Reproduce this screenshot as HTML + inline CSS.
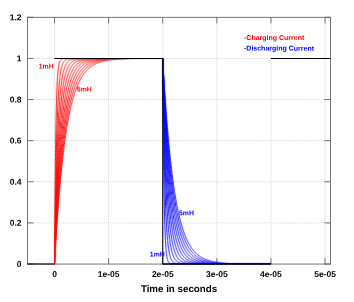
<!DOCTYPE html><html><head><meta charset="utf-8"><style>html,body{margin:0;padding:0;background:#fff}svg{display:block}</style></head><body><svg width="354" height="302" viewBox="0 0 354 302"><defs><filter id="soft" x="0" y="0" width="354" height="302" filterUnits="userSpaceOnUse"><feGaussianBlur stdDeviation="0.3"/></filter><filter id="soft2" x="0" y="0" width="354" height="302" filterUnits="userSpaceOnUse" color-interpolation-filters="sRGB"><feConvolveMatrix order="3" kernelMatrix="0.01 0.07 0.01 0.07 0.68 0.07 0.01 0.07 0.01" edgeMode="none" preserveAlpha="false"/></filter><clipPath id="cr"><rect x="0" y="58.68" width="354" height="302"/></clipPath><clipPath id="cb"><rect x="0" y="0" width="354" height="264.35"/></clipPath></defs><rect width="100%" height="100%" fill="#fff"/><g stroke="#a8a8a8" stroke-width="0.55" stroke-dasharray="0.9 1.07" fill="none"><line x1="54.55" y1="17.30" x2="54.55" y2="264.05"/><line x1="108.65" y1="17.30" x2="108.65" y2="264.05"/><line x1="162.75" y1="17.30" x2="162.75" y2="264.05"/><line x1="216.85" y1="17.30" x2="216.85" y2="264.05"/><line x1="270.95" y1="17.30" x2="270.95" y2="264.05"/><line x1="325.05" y1="17.30" x2="325.05" y2="264.05"/><line x1="27.50" y1="222.93" x2="330.50" y2="222.93"/><line x1="27.50" y1="181.80" x2="330.50" y2="181.80"/><line x1="27.50" y1="140.68" x2="330.50" y2="140.68"/><line x1="27.50" y1="99.55" x2="330.50" y2="99.55"/><line x1="27.50" y1="58.43" x2="330.50" y2="58.43"/></g><g stroke="#555" stroke-width="0.8" fill="none"><line x1="54.55" y1="264.05" x2="54.55" y2="258.05"/><line x1="54.55" y1="17.30" x2="54.55" y2="23.30"/><line x1="108.65" y1="264.05" x2="108.65" y2="258.05"/><line x1="108.65" y1="17.30" x2="108.65" y2="23.30"/><line x1="162.75" y1="264.05" x2="162.75" y2="258.05"/><line x1="162.75" y1="17.30" x2="162.75" y2="23.30"/><line x1="216.85" y1="264.05" x2="216.85" y2="258.05"/><line x1="216.85" y1="17.30" x2="216.85" y2="23.30"/><line x1="270.95" y1="264.05" x2="270.95" y2="258.05"/><line x1="270.95" y1="17.30" x2="270.95" y2="23.30"/><line x1="325.05" y1="264.05" x2="325.05" y2="258.05"/><line x1="325.05" y1="17.30" x2="325.05" y2="23.30"/><line x1="27.50" y1="264.05" x2="33.50" y2="264.05"/><line x1="330.50" y1="264.05" x2="324.50" y2="264.05"/><line x1="27.50" y1="222.93" x2="33.50" y2="222.93"/><line x1="330.50" y1="222.93" x2="324.50" y2="222.93"/><line x1="27.50" y1="181.80" x2="33.50" y2="181.80"/><line x1="330.50" y1="181.80" x2="324.50" y2="181.80"/><line x1="27.50" y1="140.68" x2="33.50" y2="140.68"/><line x1="330.50" y1="140.68" x2="324.50" y2="140.68"/><line x1="27.50" y1="99.55" x2="33.50" y2="99.55"/><line x1="330.50" y1="99.55" x2="324.50" y2="99.55"/><line x1="27.50" y1="58.43" x2="33.50" y2="58.43"/><line x1="330.50" y1="58.43" x2="324.50" y2="58.43"/><line x1="27.50" y1="17.31" x2="33.50" y2="17.31"/><line x1="330.50" y1="17.31" x2="324.50" y2="17.31"/></g><rect x="27.50" y="17.30" width="303.00" height="246.75" fill="none" stroke="#555" stroke-width="0.8"/><g clip-path="url(#cr)"><g stroke="#ff0000" stroke-width="0.95" fill="none" stroke-linejoin="round" filter="url(#soft2)"><path d="M54.55 264.05 L54.55 263.94 L54.55 263.60 L54.56 263.05 L54.56 262.27 L54.57 261.28 L54.57 260.07 L54.58 258.65 L54.59 257.02 L54.60 255.19 L54.62 253.17 L54.63 250.96 L54.65 248.57 L54.66 246.01 L54.68 243.27 L54.70 240.38 L54.72 237.34 L54.75 234.16 L54.77 230.85 L54.79 227.42 L54.82 223.87 L54.85 220.23 L54.88 216.49 L54.91 212.67 L54.94 208.78 L54.97 204.83 L55.01 200.83 L55.04 196.79 L55.08 192.71 L55.12 188.62 L55.16 184.51 L55.20 180.40 L55.24 176.29 L55.29 172.20 L55.33 168.13 L55.38 164.09 L55.43 160.09 L55.48 156.14 L55.53 152.24 L55.58 148.39 L55.63 144.61 L55.69 140.90 L55.74 137.26 L55.80 133.70 L55.86 130.23 L55.92 126.84 L55.98 123.54 L56.04 120.33 L56.11 117.21 L56.17 114.19 L56.24 111.27 L56.31 108.45 L56.38 105.73 L56.45 103.10 L56.52 100.58 L56.60 98.16 L56.67 95.83 L56.75 93.60 L56.82 91.47 L56.90 89.44 L56.98 87.49 L57.07 85.64 L57.15 83.88 L57.23 82.21 L57.32 80.63 L57.41 79.12 L57.50 77.70 L57.59 76.36 L57.68 75.09 L57.77 73.89 L57.86 72.77 L57.96 71.71 L58.06 70.72 L58.15 69.79 L58.25 68.91 L58.35 68.10 L58.46 67.34 L58.56 66.63 L58.66 65.96 L58.77 65.35 L58.88 64.78 L58.99 64.24 L59.10 63.75 L59.21 63.29 L59.32 62.87 L59.44 62.48 L59.55 62.12 L59.67 61.79 L59.79 61.49 L59.91 61.21 L60.03 60.95 L60.15 60.71 L60.27 60.50 L60.40 60.30 L60.53 60.12 L60.65 59.95 L60.78 59.80 L60.91 59.67 L61.04 59.54 L61.18 59.43 L61.31 59.33 L61.45 59.23 L61.59 59.15 L61.72 59.07 L61.86 59.01 L62.01 58.94 L62.15 58.89 L62.29 58.84 L62.44 58.79 L62.58 58.75 L62.73 58.72 L62.88 58.68 L63.03 58.66 L63.19 58.63 L63.34 58.61 L63.49 58.59 L63.65 58.57 L63.81 58.55 L63.97 58.54 L64.13 58.52 L64.29 58.51 L64.45 58.50 L64.62 58.49 L64.78 58.49 L64.95 58.48 L65.12 58.47 L65.29 58.47 L65.46 58.46 L65.63 58.46 L65.80 58.45 L65.98 58.45 L66.16 58.45 L66.33 58.45 L66.51 58.44 L66.69 58.44 L66.87 58.44 L67.06 58.44 L67.24 58.44 L67.43 58.44 L67.62 58.44 L67.80 58.43 L67.99 58.43 L68.19 58.43 L68.38 58.43 L68.57 58.43 L68.77 58.43 L68.96 58.43 L69.16 58.43 L69.36 58.43 L69.56 58.43 L69.77 58.43 L69.97 58.43 L70.17 58.43 L70.38 58.43 L70.59 58.43 L70.80 58.43 L71.01 58.43 L71.22 58.43 L71.43 58.43 L71.65 58.43 L71.86 58.43 L72.08 58.43 L72.30 58.43 L72.52 58.43 L72.74 58.43 L72.96 58.43 L73.18 58.43 L73.41 58.43 L73.64 58.43 L73.86 58.43 L74.09 58.43 L74.32 58.43 L74.56 58.43 L74.79 58.43 L75.02 58.43 L75.26 58.43 L75.50 58.43 L75.74 58.43 L75.98 58.43 L76.22 58.43 L76.46 58.43 L76.70 58.43 L76.95 58.43 L77.20 58.43 L77.45 58.43 L77.69 58.43 L77.95 58.43 L78.20 58.43 L78.45 58.43 L78.71 58.43 L78.96 58.43 L79.22 58.43 L79.48 58.43 L79.74 58.43 L80.00 58.43 L80.26 58.43 L80.53 58.43 L80.79 58.43 L81.06 58.43 L81.33 58.43 L81.60 58.43 L81.87 58.43 L82.14 58.43 L82.42 58.43 L82.69 58.43 L82.97 58.43 L83.25 58.43 L83.53 58.43 L83.81 58.43 L84.09 58.43 L84.37 58.43 L84.66 58.43 L84.94 58.43 L85.23 58.43 L85.52 58.43 L85.81 58.43 L86.10 58.43 L86.39 58.43 L86.69 58.43 L86.98 58.43 L87.28 58.43 L87.58 58.43 L87.88 58.43 L88.18 58.43 L88.48 58.43 L88.79 58.43 L89.09 58.43 L89.40 58.43 L89.70 58.43 L90.01 58.43 L90.32 58.43 L90.64 58.43 L90.95 58.43 L91.26 58.43 L91.58 58.43 L91.90 58.43 L92.21 58.43 L92.53 58.43 L92.86 58.43 L93.18 58.43 L93.50 58.43 L93.83 58.43 L94.15 58.43 L94.48 58.43 L94.81 58.43 L95.14 58.43 L95.47 58.43 L95.81 58.43 L96.14 58.43 L96.48 58.43 L96.82 58.43 L97.15 58.43 L97.49 58.43 L97.84 58.43 L98.18 58.43 L98.52 58.43 L98.87 58.43 L99.22 58.43 L99.56 58.43 L99.91 58.43 L100.26 58.43 L100.62 58.43 L100.97 58.43 L101.33 58.43 L101.68 58.43 L102.04 58.43 L102.40 58.43 L102.76 58.43 L103.12 58.43 L103.48 58.43 L103.85 58.43 L104.21 58.43 L104.58 58.43 L104.95 58.43 L105.32 58.43 L105.69 58.43 L106.06 58.43 L106.44 58.43 L106.81 58.43 L107.19 58.43 L107.57 58.43 L107.95 58.43 L108.33 58.43 L108.71 58.43 L109.09 58.43 L109.48 58.43 L109.86 58.43 L110.25 58.43 L110.64 58.43 L111.03 58.43 L111.42 58.43 L111.82 58.43 L112.21 58.43 L112.61 58.43 L113.00 58.43 L113.40 58.43 L113.80 58.43 L114.20 58.43 L114.60 58.43 L115.01 58.43 L115.41 58.43 L115.82 58.43 L116.23 58.43 L116.64 58.43 L117.05 58.43 L117.46 58.43 L117.87 58.43 L118.29 58.43 L118.70 58.43 L119.12 58.43 L119.54 58.43 L119.96 58.43 L120.38 58.43 L120.80 58.43 L121.23 58.43 L121.65 58.43 L122.08 58.43 L122.51 58.43 L122.94 58.43 L123.37 58.43 L123.80 58.43 L124.23 58.43 L124.67 58.43 L125.10 58.43 L125.54 58.43 L125.98 58.43 L126.42 58.43 L126.86 58.43 L127.30 58.43 L127.75 58.43 L128.19 58.43 L128.64 58.43 L129.09 58.43 L129.54 58.43 L129.99 58.43 L130.44 58.43 L130.90 58.43 L131.35 58.43 L131.81 58.43 L132.27 58.43 L132.72 58.43 L133.19 58.43 L133.65 58.43 L134.11 58.43 L134.57 58.43 L135.04 58.43 L135.51 58.43 L135.98 58.43 L136.45 58.43 L136.92 58.43 L137.39 58.43 L137.86 58.43 L138.34 58.43 L138.82 58.43 L139.29 58.43 L139.77 58.43 L140.26 58.43 L140.74 58.43 L141.22 58.43 L141.71 58.43 L142.19 58.43 L142.68 58.43 L143.17 58.43 L143.66 58.43 L144.15 58.43 L144.64 58.43 L145.14 58.43 L145.63 58.43 L146.13 58.43 L146.63 58.43 L147.13 58.43 L147.63 58.43 L148.13 58.43 L148.64 58.43 L149.14 58.43 L149.65 58.43 L150.16 58.43 L150.66 58.43 L151.18 58.43 L151.69 58.43 L152.20 58.43 L152.72 58.43 L153.23 58.43 L153.75 58.43 L154.27 58.43 L154.79 58.43 L155.31 58.43 L155.83 58.43 L156.36 58.43 L156.88 58.43 L157.41 58.43 L157.94 58.43 L158.47 58.43 L159.00 58.43 L159.53 58.43 L160.06 58.43 L160.60 58.43 L161.13 58.43 L161.67 58.43 L162.21 58.43 L162.75 58.43"/><path d="M54.55 264.05 L54.55 263.99 L54.55 263.80 L54.56 263.49 L54.56 263.06 L54.57 262.51 L54.57 261.84 L54.58 261.04 L54.59 260.13 L54.60 259.11 L54.62 257.96 L54.63 256.71 L54.65 255.34 L54.66 253.87 L54.68 252.29 L54.70 250.61 L54.72 248.83 L54.75 246.95 L54.77 244.98 L54.79 242.91 L54.82 240.76 L54.85 238.53 L54.88 236.22 L54.91 233.83 L54.94 231.37 L54.97 228.84 L55.01 226.25 L55.04 223.60 L55.08 220.89 L55.12 218.13 L55.16 215.33 L55.20 212.48 L55.24 209.59 L55.29 206.67 L55.33 203.71 L55.38 200.73 L55.43 197.73 L55.48 194.70 L55.53 191.67 L55.58 188.62 L55.63 185.57 L55.69 182.51 L55.74 179.45 L55.80 176.40 L55.86 173.36 L55.92 170.32 L55.98 167.31 L56.04 164.31 L56.11 161.33 L56.17 158.37 L56.24 155.44 L56.31 152.54 L56.38 149.67 L56.45 146.84 L56.52 144.04 L56.60 141.28 L56.67 138.57 L56.75 135.89 L56.82 133.26 L56.90 130.67 L56.98 128.14 L57.07 125.65 L57.15 123.21 L57.23 120.82 L57.32 118.48 L57.41 116.20 L57.50 113.97 L57.59 111.80 L57.68 109.67 L57.77 107.61 L57.86 105.60 L57.96 103.64 L58.06 101.74 L58.15 99.89 L58.25 98.10 L58.35 96.36 L58.46 94.68 L58.56 93.05 L58.66 91.48 L58.77 89.95 L58.88 88.48 L58.99 87.06 L59.10 85.69 L59.21 84.38 L59.32 83.11 L59.44 81.88 L59.55 80.71 L59.67 79.58 L59.79 78.50 L59.91 77.46 L60.03 76.46 L60.15 75.51 L60.27 74.59 L60.40 73.72 L60.53 72.88 L60.65 72.09 L60.78 71.32 L60.91 70.60 L61.04 69.91 L61.18 69.25 L61.31 68.62 L61.45 68.02 L61.59 67.45 L61.72 66.91 L61.86 66.40 L62.01 65.92 L62.15 65.46 L62.29 65.02 L62.44 64.61 L62.58 64.22 L62.73 63.85 L62.88 63.50 L63.03 63.17 L63.19 62.86 L63.34 62.57 L63.49 62.30 L63.65 62.04 L63.81 61.79 L63.97 61.56 L64.13 61.35 L64.29 61.15 L64.45 60.96 L64.62 60.78 L64.78 60.61 L64.95 60.46 L65.12 60.31 L65.29 60.17 L65.46 60.05 L65.63 59.93 L65.80 59.82 L65.98 59.71 L66.16 59.61 L66.33 59.52 L66.51 59.44 L66.69 59.36 L66.87 59.29 L67.06 59.22 L67.24 59.16 L67.43 59.10 L67.62 59.05 L67.80 59.00 L67.99 58.95 L68.19 58.91 L68.38 58.87 L68.57 58.83 L68.77 58.80 L68.96 58.77 L69.16 58.74 L69.36 58.71 L69.56 58.69 L69.77 58.67 L69.97 58.65 L70.17 58.63 L70.38 58.61 L70.59 58.60 L70.80 58.58 L71.01 58.57 L71.22 58.55 L71.43 58.54 L71.65 58.53 L71.86 58.52 L72.08 58.52 L72.30 58.51 L72.52 58.50 L72.74 58.49 L72.96 58.49 L73.18 58.48 L73.41 58.48 L73.64 58.47 L73.86 58.47 L74.09 58.46 L74.32 58.46 L74.56 58.46 L74.79 58.46 L75.02 58.45 L75.26 58.45 L75.50 58.45 L75.74 58.45 L75.98 58.45 L76.22 58.44 L76.46 58.44 L76.70 58.44 L76.95 58.44 L77.20 58.44 L77.45 58.44 L77.69 58.44 L77.95 58.44 L78.20 58.44 L78.45 58.44 L78.71 58.43 L78.96 58.43 L79.22 58.43 L79.48 58.43 L79.74 58.43 L80.00 58.43 L80.26 58.43 L80.53 58.43 L80.79 58.43 L81.06 58.43 L81.33 58.43 L81.60 58.43 L81.87 58.43 L82.14 58.43 L82.42 58.43 L82.69 58.43 L82.97 58.43 L83.25 58.43 L83.53 58.43 L83.81 58.43 L84.09 58.43 L84.37 58.43 L84.66 58.43 L84.94 58.43 L85.23 58.43 L85.52 58.43 L85.81 58.43 L86.10 58.43 L86.39 58.43 L86.69 58.43 L86.98 58.43 L87.28 58.43 L87.58 58.43 L87.88 58.43 L88.18 58.43 L88.48 58.43 L88.79 58.43 L89.09 58.43 L89.40 58.43 L89.70 58.43 L90.01 58.43 L90.32 58.43 L90.64 58.43 L90.95 58.43 L91.26 58.43 L91.58 58.43 L91.90 58.43 L92.21 58.43 L92.53 58.43 L92.86 58.43 L93.18 58.43 L93.50 58.43 L93.83 58.43 L94.15 58.43 L94.48 58.43 L94.81 58.43 L95.14 58.43 L95.47 58.43 L95.81 58.43 L96.14 58.43 L96.48 58.43 L96.82 58.43 L97.15 58.43 L97.49 58.43 L97.84 58.43 L98.18 58.43 L98.52 58.43 L98.87 58.43 L99.22 58.43 L99.56 58.43 L99.91 58.43 L100.26 58.43 L100.62 58.43 L100.97 58.43 L101.33 58.43 L101.68 58.43 L102.04 58.43 L102.40 58.43 L102.76 58.43 L103.12 58.43 L103.48 58.43 L103.85 58.43 L104.21 58.43 L104.58 58.43 L104.95 58.43 L105.32 58.43 L105.69 58.43 L106.06 58.43 L106.44 58.43 L106.81 58.43 L107.19 58.43 L107.57 58.43 L107.95 58.43 L108.33 58.43 L108.71 58.43 L109.09 58.43 L109.48 58.43 L109.86 58.43 L110.25 58.43 L110.64 58.43 L111.03 58.43 L111.42 58.43 L111.82 58.43 L112.21 58.43 L112.61 58.43 L113.00 58.43 L113.40 58.43 L113.80 58.43 L114.20 58.43 L114.60 58.43 L115.01 58.43 L115.41 58.43 L115.82 58.43 L116.23 58.43 L116.64 58.43 L117.05 58.43 L117.46 58.43 L117.87 58.43 L118.29 58.43 L118.70 58.43 L119.12 58.43 L119.54 58.43 L119.96 58.43 L120.38 58.43 L120.80 58.43 L121.23 58.43 L121.65 58.43 L122.08 58.43 L122.51 58.43 L122.94 58.43 L123.37 58.43 L123.80 58.43 L124.23 58.43 L124.67 58.43 L125.10 58.43 L125.54 58.43 L125.98 58.43 L126.42 58.43 L126.86 58.43 L127.30 58.43 L127.75 58.43 L128.19 58.43 L128.64 58.43 L129.09 58.43 L129.54 58.43 L129.99 58.43 L130.44 58.43 L130.90 58.43 L131.35 58.43 L131.81 58.43 L132.27 58.43 L132.72 58.43 L133.19 58.43 L133.65 58.43 L134.11 58.43 L134.57 58.43 L135.04 58.43 L135.51 58.43 L135.98 58.43 L136.45 58.43 L136.92 58.43 L137.39 58.43 L137.86 58.43 L138.34 58.43 L138.82 58.43 L139.29 58.43 L139.77 58.43 L140.26 58.43 L140.74 58.43 L141.22 58.43 L141.71 58.43 L142.19 58.43 L142.68 58.43 L143.17 58.43 L143.66 58.43 L144.15 58.43 L144.64 58.43 L145.14 58.43 L145.63 58.43 L146.13 58.43 L146.63 58.43 L147.13 58.43 L147.63 58.43 L148.13 58.43 L148.64 58.43 L149.14 58.43 L149.65 58.43 L150.16 58.43 L150.66 58.43 L151.18 58.43 L151.69 58.43 L152.20 58.43 L152.72 58.43 L153.23 58.43 L153.75 58.43 L154.27 58.43 L154.79 58.43 L155.31 58.43 L155.83 58.43 L156.36 58.43 L156.88 58.43 L157.41 58.43 L157.94 58.43 L158.47 58.43 L159.00 58.43 L159.53 58.43 L160.06 58.43 L160.60 58.43 L161.13 58.43 L161.67 58.43 L162.21 58.43 L162.75 58.43"/><path d="M54.55 264.05 L54.55 264.01 L54.55 263.88 L54.56 263.67 L54.56 263.37 L54.57 262.99 L54.57 262.52 L54.58 261.97 L54.59 261.34 L54.60 260.62 L54.62 259.82 L54.63 258.95 L54.65 257.99 L54.66 256.96 L54.68 255.85 L54.70 254.66 L54.72 253.41 L54.75 252.07 L54.77 250.67 L54.79 249.20 L54.82 247.66 L54.85 246.06 L54.88 244.39 L54.91 242.66 L54.94 240.87 L54.97 239.02 L55.01 237.12 L55.04 235.17 L55.08 233.16 L55.12 231.10 L55.16 229.00 L55.20 226.85 L55.24 224.67 L55.29 222.44 L55.33 220.17 L55.38 217.87 L55.43 215.54 L55.48 213.17 L55.53 210.78 L55.58 208.37 L55.63 205.93 L55.69 203.47 L55.74 200.99 L55.80 198.49 L55.86 195.99 L55.92 193.47 L55.98 190.94 L56.04 188.41 L56.11 185.87 L56.17 183.33 L56.24 180.79 L56.31 178.25 L56.38 175.71 L56.45 173.18 L56.52 170.66 L56.60 168.15 L56.67 165.65 L56.75 163.16 L56.82 160.69 L56.90 158.24 L56.98 155.80 L57.07 153.38 L57.15 150.99 L57.23 148.62 L57.32 146.27 L57.41 143.95 L57.50 141.65 L57.59 139.39 L57.68 137.15 L57.77 134.94 L57.86 132.77 L57.96 130.62 L58.06 128.51 L58.15 126.43 L58.25 124.39 L58.35 122.38 L58.46 120.40 L58.56 118.46 L58.66 116.56 L58.77 114.70 L58.88 112.87 L58.99 111.08 L59.10 109.33 L59.21 107.62 L59.32 105.94 L59.44 104.30 L59.55 102.70 L59.67 101.14 L59.79 99.61 L59.91 98.13 L60.03 96.68 L60.15 95.27 L60.27 93.90 L60.40 92.56 L60.53 91.26 L60.65 90.00 L60.78 88.77 L60.91 87.58 L61.04 86.42 L61.18 85.30 L61.31 84.21 L61.45 83.16 L61.59 82.14 L61.72 81.15 L61.86 80.19 L62.01 79.27 L62.15 78.37 L62.29 77.51 L62.44 76.68 L62.58 75.87 L62.73 75.10 L62.88 74.35 L63.03 73.63 L63.19 72.94 L63.34 72.27 L63.49 71.63 L63.65 71.01 L63.81 70.41 L63.97 69.84 L64.13 69.30 L64.29 68.77 L64.45 68.27 L64.62 67.78 L64.78 67.32 L64.95 66.87 L65.12 66.45 L65.29 66.04 L65.46 65.65 L65.63 65.28 L65.80 64.92 L65.98 64.58 L66.16 64.26 L66.33 63.95 L66.51 63.65 L66.69 63.37 L66.87 63.10 L67.06 62.85 L67.24 62.60 L67.43 62.37 L67.62 62.15 L67.80 61.94 L67.99 61.74 L68.19 61.55 L68.38 61.37 L68.57 61.20 L68.77 61.04 L68.96 60.89 L69.16 60.74 L69.36 60.61 L69.56 60.48 L69.77 60.35 L69.97 60.24 L70.17 60.13 L70.38 60.02 L70.59 59.92 L70.80 59.83 L71.01 59.74 L71.22 59.66 L71.43 59.58 L71.65 59.51 L71.86 59.44 L72.08 59.38 L72.30 59.31 L72.52 59.26 L72.74 59.20 L72.96 59.15 L73.18 59.10 L73.41 59.06 L73.64 59.02 L73.86 58.98 L74.09 58.94 L74.32 58.90 L74.56 58.87 L74.79 58.84 L75.02 58.81 L75.26 58.79 L75.50 58.76 L75.74 58.74 L75.98 58.72 L76.22 58.70 L76.46 58.68 L76.70 58.66 L76.95 58.64 L77.20 58.63 L77.45 58.61 L77.69 58.60 L77.95 58.59 L78.20 58.57 L78.45 58.56 L78.71 58.55 L78.96 58.54 L79.22 58.54 L79.48 58.53 L79.74 58.52 L80.00 58.51 L80.26 58.51 L80.53 58.50 L80.79 58.50 L81.06 58.49 L81.33 58.49 L81.60 58.48 L81.87 58.48 L82.14 58.47 L82.42 58.47 L82.69 58.47 L82.97 58.46 L83.25 58.46 L83.53 58.46 L83.81 58.46 L84.09 58.45 L84.37 58.45 L84.66 58.45 L84.94 58.45 L85.23 58.45 L85.52 58.45 L85.81 58.44 L86.10 58.44 L86.39 58.44 L86.69 58.44 L86.98 58.44 L87.28 58.44 L87.58 58.44 L87.88 58.44 L88.18 58.44 L88.48 58.44 L88.79 58.44 L89.09 58.44 L89.40 58.43 L89.70 58.43 L90.01 58.43 L90.32 58.43 L90.64 58.43 L90.95 58.43 L91.26 58.43 L91.58 58.43 L91.90 58.43 L92.21 58.43 L92.53 58.43 L92.86 58.43 L93.18 58.43 L93.50 58.43 L93.83 58.43 L94.15 58.43 L94.48 58.43 L94.81 58.43 L95.14 58.43 L95.47 58.43 L95.81 58.43 L96.14 58.43 L96.48 58.43 L96.82 58.43 L97.15 58.43 L97.49 58.43 L97.84 58.43 L98.18 58.43 L98.52 58.43 L98.87 58.43 L99.22 58.43 L99.56 58.43 L99.91 58.43 L100.26 58.43 L100.62 58.43 L100.97 58.43 L101.33 58.43 L101.68 58.43 L102.04 58.43 L102.40 58.43 L102.76 58.43 L103.12 58.43 L103.48 58.43 L103.85 58.43 L104.21 58.43 L104.58 58.43 L104.95 58.43 L105.32 58.43 L105.69 58.43 L106.06 58.43 L106.44 58.43 L106.81 58.43 L107.19 58.43 L107.57 58.43 L107.95 58.43 L108.33 58.43 L108.71 58.43 L109.09 58.43 L109.48 58.43 L109.86 58.43 L110.25 58.43 L110.64 58.43 L111.03 58.43 L111.42 58.43 L111.82 58.43 L112.21 58.43 L112.61 58.43 L113.00 58.43 L113.40 58.43 L113.80 58.43 L114.20 58.43 L114.60 58.43 L115.01 58.43 L115.41 58.43 L115.82 58.43 L116.23 58.43 L116.64 58.43 L117.05 58.43 L117.46 58.43 L117.87 58.43 L118.29 58.43 L118.70 58.43 L119.12 58.43 L119.54 58.43 L119.96 58.43 L120.38 58.43 L120.80 58.43 L121.23 58.43 L121.65 58.43 L122.08 58.43 L122.51 58.43 L122.94 58.43 L123.37 58.43 L123.80 58.43 L124.23 58.43 L124.67 58.43 L125.10 58.43 L125.54 58.43 L125.98 58.43 L126.42 58.43 L126.86 58.43 L127.30 58.43 L127.75 58.43 L128.19 58.43 L128.64 58.43 L129.09 58.43 L129.54 58.43 L129.99 58.43 L130.44 58.43 L130.90 58.43 L131.35 58.43 L131.81 58.43 L132.27 58.43 L132.72 58.43 L133.19 58.43 L133.65 58.43 L134.11 58.43 L134.57 58.43 L135.04 58.43 L135.51 58.43 L135.98 58.43 L136.45 58.43 L136.92 58.43 L137.39 58.43 L137.86 58.43 L138.34 58.43 L138.82 58.43 L139.29 58.43 L139.77 58.43 L140.26 58.43 L140.74 58.43 L141.22 58.43 L141.71 58.43 L142.19 58.43 L142.68 58.43 L143.17 58.43 L143.66 58.43 L144.15 58.43 L144.64 58.43 L145.14 58.43 L145.63 58.43 L146.13 58.43 L146.63 58.43 L147.13 58.43 L147.63 58.43 L148.13 58.43 L148.64 58.43 L149.14 58.43 L149.65 58.43 L150.16 58.43 L150.66 58.43 L151.18 58.43 L151.69 58.43 L152.20 58.43 L152.72 58.43 L153.23 58.43 L153.75 58.43 L154.27 58.43 L154.79 58.43 L155.31 58.43 L155.83 58.43 L156.36 58.43 L156.88 58.43 L157.41 58.43 L157.94 58.43 L158.47 58.43 L159.00 58.43 L159.53 58.43 L160.06 58.43 L160.60 58.43 L161.13 58.43 L161.67 58.43 L162.21 58.43 L162.75 58.43"/><path d="M54.55 264.05 L54.55 264.02 L54.55 263.92 L54.56 263.76 L54.56 263.53 L54.57 263.24 L54.57 262.88 L54.58 262.46 L54.59 261.97 L54.60 261.42 L54.62 260.81 L54.63 260.14 L54.65 259.41 L54.66 258.61 L54.68 257.76 L54.70 256.84 L54.72 255.87 L54.75 254.84 L54.77 253.75 L54.79 252.61 L54.82 251.41 L54.85 250.16 L54.88 248.85 L54.91 247.50 L54.94 246.10 L54.97 244.64 L55.01 243.14 L55.04 241.60 L55.08 240.00 L55.12 238.37 L55.16 236.69 L55.20 234.98 L55.24 233.22 L55.29 231.43 L55.33 229.60 L55.38 227.74 L55.43 225.84 L55.48 223.91 L55.53 221.96 L55.58 219.97 L55.63 217.96 L55.69 215.92 L55.74 213.86 L55.80 211.78 L55.86 209.68 L55.92 207.56 L55.98 205.42 L56.04 203.27 L56.11 201.10 L56.17 198.92 L56.24 196.73 L56.31 194.54 L56.38 192.33 L56.45 190.12 L56.52 187.90 L56.60 185.68 L56.67 183.46 L56.75 181.24 L56.82 179.02 L56.90 176.80 L56.98 174.59 L57.07 172.38 L57.15 170.18 L57.23 167.99 L57.32 165.80 L57.41 163.63 L57.50 161.46 L57.59 159.31 L57.68 157.17 L57.77 155.05 L57.86 152.94 L57.96 150.85 L58.06 148.78 L58.15 146.73 L58.25 144.69 L58.35 142.68 L58.46 140.68 L58.56 138.71 L58.66 136.76 L58.77 134.83 L58.88 132.93 L58.99 131.05 L59.10 129.20 L59.21 127.37 L59.32 125.57 L59.44 123.79 L59.55 122.04 L59.67 120.32 L59.79 118.63 L59.91 116.96 L60.03 115.32 L60.15 113.71 L60.27 112.13 L60.40 110.58 L60.53 109.05 L60.65 107.56 L60.78 106.09 L60.91 104.65 L61.04 103.25 L61.18 101.87 L61.31 100.52 L61.45 99.20 L61.59 97.90 L61.72 96.64 L61.86 95.41 L62.01 94.20 L62.15 93.02 L62.29 91.87 L62.44 90.75 L62.58 89.66 L62.73 88.59 L62.88 87.55 L63.03 86.54 L63.19 85.56 L63.34 84.60 L63.49 83.66 L63.65 82.76 L63.81 81.87 L63.97 81.01 L64.13 80.18 L64.29 79.37 L64.45 78.59 L64.62 77.82 L64.78 77.09 L64.95 76.37 L65.12 75.67 L65.29 75.00 L65.46 74.35 L65.63 73.72 L65.80 73.11 L65.98 72.52 L66.16 71.94 L66.33 71.39 L66.51 70.86 L66.69 70.34 L66.87 69.85 L67.06 69.37 L67.24 68.90 L67.43 68.46 L67.62 68.02 L67.80 67.61 L67.99 67.21 L68.19 66.82 L68.38 66.45 L68.57 66.10 L68.77 65.75 L68.96 65.42 L69.16 65.10 L69.36 64.80 L69.56 64.51 L69.77 64.22 L69.97 63.95 L70.17 63.69 L70.38 63.45 L70.59 63.21 L70.80 62.98 L71.01 62.76 L71.22 62.55 L71.43 62.35 L71.65 62.16 L71.86 61.97 L72.08 61.80 L72.30 61.63 L72.52 61.47 L72.74 61.32 L72.96 61.17 L73.18 61.03 L73.41 60.89 L73.64 60.77 L73.86 60.65 L74.09 60.53 L74.32 60.42 L74.56 60.31 L74.79 60.21 L75.02 60.12 L75.26 60.03 L75.50 59.94 L75.74 59.86 L75.98 59.78 L76.22 59.71 L76.46 59.63 L76.70 59.57 L76.95 59.50 L77.20 59.44 L77.45 59.39 L77.69 59.33 L77.95 59.28 L78.20 59.23 L78.45 59.19 L78.71 59.14 L78.96 59.10 L79.22 59.06 L79.48 59.02 L79.74 58.99 L80.00 58.96 L80.26 58.92 L80.53 58.89 L80.79 58.87 L81.06 58.84 L81.33 58.81 L81.60 58.79 L81.87 58.77 L82.14 58.75 L82.42 58.73 L82.69 58.71 L82.97 58.69 L83.25 58.68 L83.53 58.66 L83.81 58.65 L84.09 58.63 L84.37 58.62 L84.66 58.61 L84.94 58.59 L85.23 58.58 L85.52 58.57 L85.81 58.56 L86.10 58.56 L86.39 58.55 L86.69 58.54 L86.98 58.53 L87.28 58.53 L87.58 58.52 L87.88 58.51 L88.18 58.51 L88.48 58.50 L88.79 58.50 L89.09 58.49 L89.40 58.49 L89.70 58.48 L90.01 58.48 L90.32 58.48 L90.64 58.47 L90.95 58.47 L91.26 58.47 L91.58 58.46 L91.90 58.46 L92.21 58.46 L92.53 58.46 L92.86 58.46 L93.18 58.45 L93.50 58.45 L93.83 58.45 L94.15 58.45 L94.48 58.45 L94.81 58.45 L95.14 58.45 L95.47 58.44 L95.81 58.44 L96.14 58.44 L96.48 58.44 L96.82 58.44 L97.15 58.44 L97.49 58.44 L97.84 58.44 L98.18 58.44 L98.52 58.44 L98.87 58.44 L99.22 58.44 L99.56 58.44 L99.91 58.43 L100.26 58.43 L100.62 58.43 L100.97 58.43 L101.33 58.43 L101.68 58.43 L102.04 58.43 L102.40 58.43 L102.76 58.43 L103.12 58.43 L103.48 58.43 L103.85 58.43 L104.21 58.43 L104.58 58.43 L104.95 58.43 L105.32 58.43 L105.69 58.43 L106.06 58.43 L106.44 58.43 L106.81 58.43 L107.19 58.43 L107.57 58.43 L107.95 58.43 L108.33 58.43 L108.71 58.43 L109.09 58.43 L109.48 58.43 L109.86 58.43 L110.25 58.43 L110.64 58.43 L111.03 58.43 L111.42 58.43 L111.82 58.43 L112.21 58.43 L112.61 58.43 L113.00 58.43 L113.40 58.43 L113.80 58.43 L114.20 58.43 L114.60 58.43 L115.01 58.43 L115.41 58.43 L115.82 58.43 L116.23 58.43 L116.64 58.43 L117.05 58.43 L117.46 58.43 L117.87 58.43 L118.29 58.43 L118.70 58.43 L119.12 58.43 L119.54 58.43 L119.96 58.43 L120.38 58.43 L120.80 58.43 L121.23 58.43 L121.65 58.43 L122.08 58.43 L122.51 58.43 L122.94 58.43 L123.37 58.43 L123.80 58.43 L124.23 58.43 L124.67 58.43 L125.10 58.43 L125.54 58.43 L125.98 58.43 L126.42 58.43 L126.86 58.43 L127.30 58.43 L127.75 58.43 L128.19 58.43 L128.64 58.43 L129.09 58.43 L129.54 58.43 L129.99 58.43 L130.44 58.43 L130.90 58.43 L131.35 58.43 L131.81 58.43 L132.27 58.43 L132.72 58.43 L133.19 58.43 L133.65 58.43 L134.11 58.43 L134.57 58.43 L135.04 58.43 L135.51 58.43 L135.98 58.43 L136.45 58.43 L136.92 58.43 L137.39 58.43 L137.86 58.43 L138.34 58.43 L138.82 58.43 L139.29 58.43 L139.77 58.43 L140.26 58.43 L140.74 58.43 L141.22 58.43 L141.71 58.43 L142.19 58.43 L142.68 58.43 L143.17 58.43 L143.66 58.43 L144.15 58.43 L144.64 58.43 L145.14 58.43 L145.63 58.43 L146.13 58.43 L146.63 58.43 L147.13 58.43 L147.63 58.43 L148.13 58.43 L148.64 58.43 L149.14 58.43 L149.65 58.43 L150.16 58.43 L150.66 58.43 L151.18 58.43 L151.69 58.43 L152.20 58.43 L152.72 58.43 L153.23 58.43 L153.75 58.43 L154.27 58.43 L154.79 58.43 L155.31 58.43 L155.83 58.43 L156.36 58.43 L156.88 58.43 L157.41 58.43 L157.94 58.43 L158.47 58.43 L159.00 58.43 L159.53 58.43 L160.06 58.43 L160.60 58.43 L161.13 58.43 L161.67 58.43 L162.21 58.43 L162.75 58.43"/><path d="M54.55 264.05 L54.55 264.02 L54.55 263.94 L54.56 263.81 L54.56 263.63 L54.57 263.39 L54.57 263.10 L54.58 262.76 L54.59 262.37 L54.60 261.92 L54.62 261.43 L54.63 260.88 L54.65 260.28 L54.66 259.64 L54.68 258.94 L54.70 258.20 L54.72 257.40 L54.75 256.56 L54.77 255.68 L54.79 254.74 L54.82 253.76 L54.85 252.74 L54.88 251.67 L54.91 250.55 L54.94 249.40 L54.97 248.20 L55.01 246.96 L55.04 245.69 L55.08 244.37 L55.12 243.01 L55.16 241.62 L55.20 240.19 L55.24 238.73 L55.29 237.23 L55.33 235.70 L55.38 234.14 L55.43 232.54 L55.48 230.92 L55.53 229.27 L55.58 227.59 L55.63 225.88 L55.69 224.15 L55.74 222.39 L55.80 220.61 L55.86 218.81 L55.92 216.99 L55.98 215.15 L56.04 213.29 L56.11 211.42 L56.17 209.52 L56.24 207.62 L56.31 205.69 L56.38 203.76 L56.45 201.81 L56.52 199.86 L56.60 197.89 L56.67 195.92 L56.75 193.94 L56.82 191.96 L56.90 189.97 L56.98 187.97 L57.07 185.98 L57.15 183.98 L57.23 181.98 L57.32 179.98 L57.41 177.99 L57.50 176.00 L57.59 174.01 L57.68 172.02 L57.77 170.04 L57.86 168.07 L57.96 166.10 L58.06 164.14 L58.15 162.19 L58.25 160.26 L58.35 158.33 L58.46 156.41 L58.56 154.50 L58.66 152.61 L58.77 150.73 L58.88 148.87 L58.99 147.02 L59.10 145.19 L59.21 143.37 L59.32 141.57 L59.44 139.78 L59.55 138.02 L59.67 136.27 L59.79 134.54 L59.91 132.83 L60.03 131.14 L60.15 129.47 L60.27 127.82 L60.40 126.19 L60.53 124.59 L60.65 123.00 L60.78 121.44 L60.91 119.90 L61.04 118.38 L61.18 116.88 L61.31 115.41 L61.45 113.96 L61.59 112.53 L61.72 111.12 L61.86 109.74 L62.01 108.38 L62.15 107.05 L62.29 105.74 L62.44 104.45 L62.58 103.19 L62.73 101.95 L62.88 100.73 L63.03 99.54 L63.19 98.37 L63.34 97.22 L63.49 96.10 L63.65 95.00 L63.81 93.92 L63.97 92.86 L64.13 91.83 L64.29 90.82 L64.45 89.84 L64.62 88.87 L64.78 87.93 L64.95 87.01 L65.12 86.11 L65.29 85.23 L65.46 84.38 L65.63 83.54 L65.80 82.73 L65.98 81.93 L66.16 81.16 L66.33 80.40 L66.51 79.67 L66.69 78.95 L66.87 78.26 L67.06 77.58 L67.24 76.92 L67.43 76.28 L67.62 75.66 L67.80 75.05 L67.99 74.46 L68.19 73.89 L68.38 73.33 L68.57 72.80 L68.77 72.27 L68.96 71.77 L69.16 71.27 L69.36 70.80 L69.56 70.33 L69.77 69.89 L69.97 69.45 L70.17 69.03 L70.38 68.62 L70.59 68.23 L70.80 67.85 L71.01 67.48 L71.22 67.12 L71.43 66.78 L71.65 66.45 L71.86 66.13 L72.08 65.81 L72.30 65.51 L72.52 65.23 L72.74 64.95 L72.96 64.68 L73.18 64.42 L73.41 64.17 L73.64 63.93 L73.86 63.69 L74.09 63.47 L74.32 63.25 L74.56 63.05 L74.79 62.85 L75.02 62.65 L75.26 62.47 L75.50 62.29 L75.74 62.12 L75.98 61.95 L76.22 61.80 L76.46 61.65 L76.70 61.50 L76.95 61.36 L77.20 61.23 L77.45 61.10 L77.69 60.97 L77.95 60.86 L78.20 60.74 L78.45 60.63 L78.71 60.53 L78.96 60.43 L79.22 60.33 L79.48 60.24 L79.74 60.16 L80.00 60.07 L80.26 59.99 L80.53 59.92 L80.79 59.84 L81.06 59.77 L81.33 59.71 L81.60 59.64 L81.87 59.58 L82.14 59.52 L82.42 59.47 L82.69 59.42 L82.97 59.36 L83.25 59.32 L83.53 59.27 L83.81 59.23 L84.09 59.19 L84.37 59.15 L84.66 59.11 L84.94 59.07 L85.23 59.04 L85.52 59.01 L85.81 58.98 L86.10 58.95 L86.39 58.92 L86.69 58.89 L86.98 58.87 L87.28 58.84 L87.58 58.82 L87.88 58.80 L88.18 58.78 L88.48 58.76 L88.79 58.74 L89.09 58.72 L89.40 58.71 L89.70 58.69 L90.01 58.68 L90.32 58.66 L90.64 58.65 L90.95 58.64 L91.26 58.62 L91.58 58.61 L91.90 58.60 L92.21 58.59 L92.53 58.58 L92.86 58.57 L93.18 58.56 L93.50 58.56 L93.83 58.55 L94.15 58.54 L94.48 58.54 L94.81 58.53 L95.14 58.52 L95.47 58.52 L95.81 58.51 L96.14 58.51 L96.48 58.50 L96.82 58.50 L97.15 58.49 L97.49 58.49 L97.84 58.49 L98.18 58.48 L98.52 58.48 L98.87 58.48 L99.22 58.47 L99.56 58.47 L99.91 58.47 L100.26 58.47 L100.62 58.46 L100.97 58.46 L101.33 58.46 L101.68 58.46 L102.04 58.46 L102.40 58.45 L102.76 58.45 L103.12 58.45 L103.48 58.45 L103.85 58.45 L104.21 58.45 L104.58 58.45 L104.95 58.44 L105.32 58.44 L105.69 58.44 L106.06 58.44 L106.44 58.44 L106.81 58.44 L107.19 58.44 L107.57 58.44 L107.95 58.44 L108.33 58.44 L108.71 58.44 L109.09 58.44 L109.48 58.44 L109.86 58.44 L110.25 58.44 L110.64 58.43 L111.03 58.43 L111.42 58.43 L111.82 58.43 L112.21 58.43 L112.61 58.43 L113.00 58.43 L113.40 58.43 L113.80 58.43 L114.20 58.43 L114.60 58.43 L115.01 58.43 L115.41 58.43 L115.82 58.43 L116.23 58.43 L116.64 58.43 L117.05 58.43 L117.46 58.43 L117.87 58.43 L118.29 58.43 L118.70 58.43 L119.12 58.43 L119.54 58.43 L119.96 58.43 L120.38 58.43 L120.80 58.43 L121.23 58.43 L121.65 58.43 L122.08 58.43 L122.51 58.43 L122.94 58.43 L123.37 58.43 L123.80 58.43 L124.23 58.43 L124.67 58.43 L125.10 58.43 L125.54 58.43 L125.98 58.43 L126.42 58.43 L126.86 58.43 L127.30 58.43 L127.75 58.43 L128.19 58.43 L128.64 58.43 L129.09 58.43 L129.54 58.43 L129.99 58.43 L130.44 58.43 L130.90 58.43 L131.35 58.43 L131.81 58.43 L132.27 58.43 L132.72 58.43 L133.19 58.43 L133.65 58.43 L134.11 58.43 L134.57 58.43 L135.04 58.43 L135.51 58.43 L135.98 58.43 L136.45 58.43 L136.92 58.43 L137.39 58.43 L137.86 58.43 L138.34 58.43 L138.82 58.43 L139.29 58.43 L139.77 58.43 L140.26 58.43 L140.74 58.43 L141.22 58.43 L141.71 58.43 L142.19 58.43 L142.68 58.43 L143.17 58.43 L143.66 58.43 L144.15 58.43 L144.64 58.43 L145.14 58.43 L145.63 58.43 L146.13 58.43 L146.63 58.43 L147.13 58.43 L147.63 58.43 L148.13 58.43 L148.64 58.43 L149.14 58.43 L149.65 58.43 L150.16 58.43 L150.66 58.43 L151.18 58.43 L151.69 58.43 L152.20 58.43 L152.72 58.43 L153.23 58.43 L153.75 58.43 L154.27 58.43 L154.79 58.43 L155.31 58.43 L155.83 58.43 L156.36 58.43 L156.88 58.43 L157.41 58.43 L157.94 58.43 L158.47 58.43 L159.00 58.43 L159.53 58.43 L160.06 58.43 L160.60 58.43 L161.13 58.43 L161.67 58.43 L162.21 58.43 L162.75 58.43"/><path d="M54.55 264.05 L54.55 264.03 L54.55 263.96 L54.56 263.85 L54.56 263.70 L54.57 263.50 L54.57 263.25 L54.58 262.97 L54.59 262.64 L54.60 262.26 L54.62 261.85 L54.63 261.39 L54.65 260.88 L54.66 260.34 L54.68 259.75 L54.70 259.12 L54.72 258.46 L54.75 257.75 L54.77 256.99 L54.79 256.20 L54.82 255.38 L54.85 254.51 L54.88 253.60 L54.91 252.66 L54.94 251.68 L54.97 250.66 L55.01 249.60 L55.04 248.52 L55.08 247.39 L55.12 246.24 L55.16 245.04 L55.20 243.82 L55.24 242.57 L55.29 241.28 L55.33 239.97 L55.38 238.62 L55.43 237.25 L55.48 235.85 L55.53 234.42 L55.58 232.97 L55.63 231.49 L55.69 229.98 L55.74 228.45 L55.80 226.90 L55.86 225.33 L55.92 223.74 L55.98 222.13 L56.04 220.49 L56.11 218.84 L56.17 217.18 L56.24 215.49 L56.31 213.79 L56.38 212.08 L56.45 210.35 L56.52 208.61 L56.60 206.85 L56.67 205.09 L56.75 203.31 L56.82 201.53 L56.90 199.74 L56.98 197.93 L57.07 196.13 L57.15 194.31 L57.23 192.50 L57.32 190.67 L57.41 188.85 L57.50 187.02 L57.59 185.19 L57.68 183.36 L57.77 181.53 L57.86 179.70 L57.96 177.87 L58.06 176.04 L58.15 174.22 L58.25 172.40 L58.35 170.59 L58.46 168.78 L58.56 166.97 L58.66 165.17 L58.77 163.38 L58.88 161.60 L58.99 159.83 L59.10 158.06 L59.21 156.30 L59.32 154.56 L59.44 152.82 L59.55 151.10 L59.67 149.39 L59.79 147.69 L59.91 146.00 L60.03 144.33 L60.15 142.67 L60.27 141.03 L60.40 139.40 L60.53 137.78 L60.65 136.18 L60.78 134.60 L60.91 133.03 L61.04 131.48 L61.18 129.94 L61.31 128.43 L61.45 126.93 L61.59 125.44 L61.72 123.98 L61.86 122.53 L62.01 121.11 L62.15 119.70 L62.29 118.31 L62.44 116.94 L62.58 115.58 L62.73 114.25 L62.88 112.94 L63.03 111.64 L63.19 110.37 L63.34 109.11 L63.49 107.88 L63.65 106.66 L63.81 105.47 L63.97 104.29 L64.13 103.13 L64.29 102.00 L64.45 100.88 L64.62 99.78 L64.78 98.71 L64.95 97.65 L65.12 96.61 L65.29 95.59 L65.46 94.59 L65.63 93.61 L65.80 92.65 L65.98 91.71 L66.16 90.79 L66.33 89.88 L66.51 89.00 L66.69 88.13 L66.87 87.28 L67.06 86.45 L67.24 85.64 L67.43 84.84 L67.62 84.07 L67.80 83.31 L67.99 82.57 L68.19 81.84 L68.38 81.13 L68.57 80.44 L68.77 79.77 L68.96 79.11 L69.16 78.46 L69.36 77.84 L69.56 77.23 L69.77 76.63 L69.97 76.05 L70.17 75.48 L70.38 74.93 L70.59 74.40 L70.80 73.87 L71.01 73.36 L71.22 72.87 L71.43 72.39 L71.65 71.92 L71.86 71.46 L72.08 71.02 L72.30 70.59 L72.52 70.17 L72.74 69.76 L72.96 69.37 L73.18 68.99 L73.41 68.61 L73.64 68.25 L73.86 67.90 L74.09 67.56 L74.32 67.23 L74.56 66.91 L74.79 66.60 L75.02 66.30 L75.26 66.01 L75.50 65.73 L75.74 65.46 L75.98 65.20 L76.22 64.94 L76.46 64.69 L76.70 64.45 L76.95 64.22 L77.20 64.00 L77.45 63.78 L77.69 63.57 L77.95 63.37 L78.20 63.18 L78.45 62.99 L78.71 62.81 L78.96 62.63 L79.22 62.46 L79.48 62.30 L79.74 62.14 L80.00 61.99 L80.26 61.85 L80.53 61.71 L80.79 61.57 L81.06 61.44 L81.33 61.31 L81.60 61.19 L81.87 61.07 L82.14 60.96 L82.42 60.85 L82.69 60.75 L82.97 60.65 L83.25 60.55 L83.53 60.46 L83.81 60.37 L84.09 60.29 L84.37 60.21 L84.66 60.13 L84.94 60.05 L85.23 59.98 L85.52 59.91 L85.81 59.84 L86.10 59.78 L86.39 59.72 L86.69 59.66 L86.98 59.60 L87.28 59.55 L87.58 59.50 L87.88 59.45 L88.18 59.40 L88.48 59.35 L88.79 59.31 L89.09 59.27 L89.40 59.23 L89.70 59.19 L90.01 59.15 L90.32 59.12 L90.64 59.08 L90.95 59.05 L91.26 59.02 L91.58 58.99 L91.90 58.97 L92.21 58.94 L92.53 58.91 L92.86 58.89 L93.18 58.87 L93.50 58.84 L93.83 58.82 L94.15 58.80 L94.48 58.78 L94.81 58.77 L95.14 58.75 L95.47 58.73 L95.81 58.72 L96.14 58.70 L96.48 58.69 L96.82 58.67 L97.15 58.66 L97.49 58.65 L97.84 58.64 L98.18 58.63 L98.52 58.62 L98.87 58.61 L99.22 58.60 L99.56 58.59 L99.91 58.58 L100.26 58.57 L100.62 58.56 L100.97 58.56 L101.33 58.55 L101.68 58.54 L102.04 58.54 L102.40 58.53 L102.76 58.52 L103.12 58.52 L103.48 58.51 L103.85 58.51 L104.21 58.51 L104.58 58.50 L104.95 58.50 L105.32 58.49 L105.69 58.49 L106.06 58.49 L106.44 58.48 L106.81 58.48 L107.19 58.48 L107.57 58.47 L107.95 58.47 L108.33 58.47 L108.71 58.47 L109.09 58.46 L109.48 58.46 L109.86 58.46 L110.25 58.46 L110.64 58.46 L111.03 58.46 L111.42 58.45 L111.82 58.45 L112.21 58.45 L112.61 58.45 L113.00 58.45 L113.40 58.45 L113.80 58.45 L114.20 58.45 L114.60 58.44 L115.01 58.44 L115.41 58.44 L115.82 58.44 L116.23 58.44 L116.64 58.44 L117.05 58.44 L117.46 58.44 L117.87 58.44 L118.29 58.44 L118.70 58.44 L119.12 58.44 L119.54 58.44 L119.96 58.44 L120.38 58.44 L120.80 58.44 L121.23 58.43 L121.65 58.43 L122.08 58.43 L122.51 58.43 L122.94 58.43 L123.37 58.43 L123.80 58.43 L124.23 58.43 L124.67 58.43 L125.10 58.43 L125.54 58.43 L125.98 58.43 L126.42 58.43 L126.86 58.43 L127.30 58.43 L127.75 58.43 L128.19 58.43 L128.64 58.43 L129.09 58.43 L129.54 58.43 L129.99 58.43 L130.44 58.43 L130.90 58.43 L131.35 58.43 L131.81 58.43 L132.27 58.43 L132.72 58.43 L133.19 58.43 L133.65 58.43 L134.11 58.43 L134.57 58.43 L135.04 58.43 L135.51 58.43 L135.98 58.43 L136.45 58.43 L136.92 58.43 L137.39 58.43 L137.86 58.43 L138.34 58.43 L138.82 58.43 L139.29 58.43 L139.77 58.43 L140.26 58.43 L140.74 58.43 L141.22 58.43 L141.71 58.43 L142.19 58.43 L142.68 58.43 L143.17 58.43 L143.66 58.43 L144.15 58.43 L144.64 58.43 L145.14 58.43 L145.63 58.43 L146.13 58.43 L146.63 58.43 L147.13 58.43 L147.63 58.43 L148.13 58.43 L148.64 58.43 L149.14 58.43 L149.65 58.43 L150.16 58.43 L150.66 58.43 L151.18 58.43 L151.69 58.43 L152.20 58.43 L152.72 58.43 L153.23 58.43 L153.75 58.43 L154.27 58.43 L154.79 58.43 L155.31 58.43 L155.83 58.43 L156.36 58.43 L156.88 58.43 L157.41 58.43 L157.94 58.43 L158.47 58.43 L159.00 58.43 L159.53 58.43 L160.06 58.43 L160.60 58.43 L161.13 58.43 L161.67 58.43 L162.21 58.43 L162.75 58.43"/><path d="M54.55 264.05 L54.55 264.03 L54.55 263.97 L54.56 263.88 L54.56 263.74 L54.57 263.57 L54.57 263.36 L54.58 263.12 L54.59 262.83 L54.60 262.51 L54.62 262.15 L54.63 261.75 L54.65 261.32 L54.66 260.85 L54.68 260.34 L54.70 259.80 L54.72 259.22 L54.75 258.60 L54.77 257.96 L54.79 257.27 L54.82 256.55 L54.85 255.80 L54.88 255.01 L54.91 254.19 L54.94 253.34 L54.97 252.46 L55.01 251.54 L55.04 250.59 L55.08 249.61 L55.12 248.60 L55.16 247.56 L55.20 246.49 L55.24 245.40 L55.29 244.27 L55.33 243.12 L55.38 241.94 L55.43 240.73 L55.48 239.50 L55.53 238.25 L55.58 236.96 L55.63 235.66 L55.69 234.33 L55.74 232.98 L55.80 231.61 L55.86 230.21 L55.92 228.80 L55.98 227.37 L56.04 225.91 L56.11 224.44 L56.17 222.95 L56.24 221.45 L56.31 219.93 L56.38 218.39 L56.45 216.84 L56.52 215.27 L56.60 213.69 L56.67 212.10 L56.75 210.49 L56.82 208.88 L56.90 207.25 L56.98 205.62 L57.07 203.97 L57.15 202.32 L57.23 200.66 L57.32 198.99 L57.41 197.32 L57.50 195.64 L57.59 193.95 L57.68 192.27 L57.77 190.57 L57.86 188.88 L57.96 187.18 L58.06 185.48 L58.15 183.78 L58.25 182.08 L58.35 180.38 L58.46 178.69 L58.56 176.99 L58.66 175.30 L58.77 173.60 L58.88 171.92 L58.99 170.23 L59.10 168.55 L59.21 166.88 L59.32 165.21 L59.44 163.55 L59.55 161.89 L59.67 160.24 L59.79 158.60 L59.91 156.97 L60.03 155.34 L60.15 153.73 L60.27 152.12 L60.40 150.52 L60.53 148.94 L60.65 147.36 L60.78 145.80 L60.91 144.25 L61.04 142.71 L61.18 141.18 L61.31 139.67 L61.45 138.16 L61.59 136.67 L61.72 135.20 L61.86 133.74 L62.01 132.29 L62.15 130.86 L62.29 129.44 L62.44 128.03 L62.58 126.65 L62.73 125.27 L62.88 123.91 L63.03 122.57 L63.19 121.25 L63.34 119.94 L63.49 118.64 L63.65 117.36 L63.81 116.10 L63.97 114.86 L64.13 113.63 L64.29 112.42 L64.45 111.22 L64.62 110.04 L64.78 108.88 L64.95 107.74 L65.12 106.61 L65.29 105.50 L65.46 104.41 L65.63 103.33 L65.80 102.27 L65.98 101.23 L66.16 100.21 L66.33 99.20 L66.51 98.21 L66.69 97.23 L66.87 96.28 L67.06 95.34 L67.24 94.41 L67.43 93.50 L67.62 92.61 L67.80 91.74 L67.99 90.88 L68.19 90.04 L68.38 89.21 L68.57 88.40 L68.77 87.61 L68.96 86.83 L69.16 86.07 L69.36 85.32 L69.56 84.59 L69.77 83.87 L69.97 83.17 L70.17 82.49 L70.38 81.81 L70.59 81.16 L70.80 80.51 L71.01 79.89 L71.22 79.27 L71.43 78.67 L71.65 78.08 L71.86 77.51 L72.08 76.95 L72.30 76.40 L72.52 75.87 L72.74 75.35 L72.96 74.84 L73.18 74.34 L73.41 73.86 L73.64 73.38 L73.86 72.92 L74.09 72.47 L74.32 72.04 L74.56 71.61 L74.79 71.19 L75.02 70.79 L75.26 70.39 L75.50 70.01 L75.74 69.64 L75.98 69.27 L76.22 68.92 L76.46 68.58 L76.70 68.24 L76.95 67.92 L77.20 67.60 L77.45 67.29 L77.69 66.99 L77.95 66.70 L78.20 66.42 L78.45 66.15 L78.71 65.88 L78.96 65.63 L79.22 65.38 L79.48 65.13 L79.74 64.90 L80.00 64.67 L80.26 64.45 L80.53 64.23 L80.79 64.03 L81.06 63.82 L81.33 63.63 L81.60 63.44 L81.87 63.26 L82.14 63.08 L82.42 62.91 L82.69 62.74 L82.97 62.58 L83.25 62.43 L83.53 62.27 L83.81 62.13 L84.09 61.99 L84.37 61.85 L84.66 61.72 L84.94 61.60 L85.23 61.47 L85.52 61.35 L85.81 61.24 L86.10 61.13 L86.39 61.02 L86.69 60.92 L86.98 60.82 L87.28 60.73 L87.58 60.63 L87.88 60.55 L88.18 60.46 L88.48 60.38 L88.79 60.30 L89.09 60.22 L89.40 60.15 L89.70 60.08 L90.01 60.01 L90.32 59.94 L90.64 59.88 L90.95 59.82 L91.26 59.76 L91.58 59.70 L91.90 59.65 L92.21 59.60 L92.53 59.55 L92.86 59.50 L93.18 59.45 L93.50 59.41 L93.83 59.36 L94.15 59.32 L94.48 59.28 L94.81 59.25 L95.14 59.21 L95.47 59.18 L95.81 59.14 L96.14 59.11 L96.48 59.08 L96.82 59.05 L97.15 59.02 L97.49 58.99 L97.84 58.97 L98.18 58.94 L98.52 58.92 L98.87 58.90 L99.22 58.88 L99.56 58.86 L99.91 58.84 L100.26 58.82 L100.62 58.80 L100.97 58.78 L101.33 58.76 L101.68 58.75 L102.04 58.73 L102.40 58.72 L102.76 58.70 L103.12 58.69 L103.48 58.68 L103.85 58.67 L104.21 58.65 L104.58 58.64 L104.95 58.63 L105.32 58.62 L105.69 58.61 L106.06 58.60 L106.44 58.60 L106.81 58.59 L107.19 58.58 L107.57 58.57 L107.95 58.56 L108.33 58.56 L108.71 58.55 L109.09 58.54 L109.48 58.54 L109.86 58.53 L110.25 58.53 L110.64 58.52 L111.03 58.52 L111.42 58.51 L111.82 58.51 L112.21 58.50 L112.61 58.50 L113.00 58.50 L113.40 58.49 L113.80 58.49 L114.20 58.49 L114.60 58.48 L115.01 58.48 L115.41 58.48 L115.82 58.48 L116.23 58.47 L116.64 58.47 L117.05 58.47 L117.46 58.47 L117.87 58.46 L118.29 58.46 L118.70 58.46 L119.12 58.46 L119.54 58.46 L119.96 58.46 L120.38 58.45 L120.80 58.45 L121.23 58.45 L121.65 58.45 L122.08 58.45 L122.51 58.45 L122.94 58.45 L123.37 58.45 L123.80 58.45 L124.23 58.44 L124.67 58.44 L125.10 58.44 L125.54 58.44 L125.98 58.44 L126.42 58.44 L126.86 58.44 L127.30 58.44 L127.75 58.44 L128.19 58.44 L128.64 58.44 L129.09 58.44 L129.54 58.44 L129.99 58.44 L130.44 58.44 L130.90 58.44 L131.35 58.44 L131.81 58.44 L132.27 58.43 L132.72 58.43 L133.19 58.43 L133.65 58.43 L134.11 58.43 L134.57 58.43 L135.04 58.43 L135.51 58.43 L135.98 58.43 L136.45 58.43 L136.92 58.43 L137.39 58.43 L137.86 58.43 L138.34 58.43 L138.82 58.43 L139.29 58.43 L139.77 58.43 L140.26 58.43 L140.74 58.43 L141.22 58.43 L141.71 58.43 L142.19 58.43 L142.68 58.43 L143.17 58.43 L143.66 58.43 L144.15 58.43 L144.64 58.43 L145.14 58.43 L145.63 58.43 L146.13 58.43 L146.63 58.43 L147.13 58.43 L147.63 58.43 L148.13 58.43 L148.64 58.43 L149.14 58.43 L149.65 58.43 L150.16 58.43 L150.66 58.43 L151.18 58.43 L151.69 58.43 L152.20 58.43 L152.72 58.43 L153.23 58.43 L153.75 58.43 L154.27 58.43 L154.79 58.43 L155.31 58.43 L155.83 58.43 L156.36 58.43 L156.88 58.43 L157.41 58.43 L157.94 58.43 L158.47 58.43 L159.00 58.43 L159.53 58.43 L160.06 58.43 L160.60 58.43 L161.13 58.43 L161.67 58.43 L162.21 58.43 L162.75 58.43"/><path d="M54.55 264.05 L54.55 264.03 L54.55 263.98 L54.56 263.90 L54.56 263.78 L54.57 263.63 L54.57 263.45 L54.58 263.23 L54.59 262.98 L54.60 262.70 L54.62 262.38 L54.63 262.03 L54.65 261.65 L54.66 261.23 L54.68 260.79 L54.70 260.31 L54.72 259.80 L54.75 259.26 L54.77 258.69 L54.79 258.08 L54.82 257.45 L54.85 256.78 L54.88 256.09 L54.91 255.36 L54.94 254.61 L54.97 253.83 L55.01 253.02 L55.04 252.18 L55.08 251.31 L55.12 250.41 L55.16 249.49 L55.20 248.54 L55.24 247.57 L55.29 246.57 L55.33 245.54 L55.38 244.49 L55.43 243.42 L55.48 242.32 L55.53 241.20 L55.58 240.05 L55.63 238.89 L55.69 237.70 L55.74 236.49 L55.80 235.26 L55.86 234.01 L55.92 232.73 L55.98 231.45 L56.04 230.14 L56.11 228.81 L56.17 227.47 L56.24 226.11 L56.31 224.73 L56.38 223.34 L56.45 221.93 L56.52 220.51 L56.60 219.08 L56.67 217.63 L56.75 216.17 L56.82 214.69 L56.90 213.21 L56.98 211.71 L57.07 210.21 L57.15 208.69 L57.23 207.17 L57.32 205.63 L57.41 204.09 L57.50 202.55 L57.59 200.99 L57.68 199.43 L57.77 197.86 L57.86 196.29 L57.96 194.71 L58.06 193.13 L58.15 191.55 L58.25 189.96 L58.35 188.37 L58.46 186.78 L58.56 185.19 L58.66 183.59 L58.77 182.00 L58.88 180.41 L58.99 178.82 L59.10 177.23 L59.21 175.64 L59.32 174.05 L59.44 172.47 L59.55 170.89 L59.67 169.31 L59.79 167.74 L59.91 166.17 L60.03 164.61 L60.15 163.05 L60.27 161.50 L60.40 159.96 L60.53 158.42 L60.65 156.89 L60.78 155.37 L60.91 153.85 L61.04 152.35 L61.18 150.85 L61.31 149.36 L61.45 147.88 L61.59 146.41 L61.72 144.95 L61.86 143.50 L62.01 142.07 L62.15 140.64 L62.29 139.22 L62.44 137.82 L62.58 136.42 L62.73 135.04 L62.88 133.67 L63.03 132.32 L63.19 130.97 L63.34 129.64 L63.49 128.32 L63.65 127.02 L63.81 125.73 L63.97 124.45 L64.13 123.18 L64.29 121.93 L64.45 120.70 L64.62 119.47 L64.78 118.27 L64.95 117.07 L65.12 115.89 L65.29 114.73 L65.46 113.58 L65.63 112.44 L65.80 111.32 L65.98 110.22 L66.16 109.12 L66.33 108.05 L66.51 106.99 L66.69 105.94 L66.87 104.91 L67.06 103.89 L67.24 102.89 L67.43 101.90 L67.62 100.93 L67.80 99.98 L67.99 99.03 L68.19 98.11 L68.38 97.20 L68.57 96.30 L68.77 95.42 L68.96 94.55 L69.16 93.70 L69.36 92.86 L69.56 92.03 L69.77 91.22 L69.97 90.43 L70.17 89.65 L70.38 88.88 L70.59 88.12 L70.80 87.39 L71.01 86.66 L71.22 85.95 L71.43 85.25 L71.65 84.57 L71.86 83.89 L72.08 83.24 L72.30 82.59 L72.52 81.96 L72.74 81.34 L72.96 80.73 L73.18 80.14 L73.41 79.56 L73.64 78.99 L73.86 78.43 L74.09 77.88 L74.32 77.35 L74.56 76.83 L74.79 76.32 L75.02 75.82 L75.26 75.33 L75.50 74.85 L75.74 74.39 L75.98 73.93 L76.22 73.49 L76.46 73.05 L76.70 72.63 L76.95 72.21 L77.20 71.81 L77.45 71.41 L77.69 71.03 L77.95 70.65 L78.20 70.29 L78.45 69.93 L78.71 69.58 L78.96 69.24 L79.22 68.91 L79.48 68.59 L79.74 68.27 L80.00 67.97 L80.26 67.67 L80.53 67.38 L80.79 67.10 L81.06 66.82 L81.33 66.55 L81.60 66.29 L81.87 66.04 L82.14 65.79 L82.42 65.56 L82.69 65.32 L82.97 65.10 L83.25 64.88 L83.53 64.66 L83.81 64.46 L84.09 64.25 L84.37 64.06 L84.66 63.87 L84.94 63.68 L85.23 63.50 L85.52 63.33 L85.81 63.16 L86.10 63.00 L86.39 62.84 L86.69 62.69 L86.98 62.54 L87.28 62.39 L87.58 62.25 L87.88 62.12 L88.18 61.99 L88.48 61.86 L88.79 61.73 L89.09 61.62 L89.40 61.50 L89.70 61.39 L90.01 61.28 L90.32 61.17 L90.64 61.07 L90.95 60.98 L91.26 60.88 L91.58 60.79 L91.90 60.70 L92.21 60.62 L92.53 60.53 L92.86 60.45 L93.18 60.38 L93.50 60.30 L93.83 60.23 L94.15 60.16 L94.48 60.09 L94.81 60.03 L95.14 59.96 L95.47 59.90 L95.81 59.85 L96.14 59.79 L96.48 59.74 L96.82 59.68 L97.15 59.63 L97.49 59.59 L97.84 59.54 L98.18 59.49 L98.52 59.45 L98.87 59.41 L99.22 59.37 L99.56 59.33 L99.91 59.29 L100.26 59.26 L100.62 59.22 L100.97 59.19 L101.33 59.16 L101.68 59.13 L102.04 59.10 L102.40 59.07 L102.76 59.04 L103.12 59.02 L103.48 58.99 L103.85 58.97 L104.21 58.94 L104.58 58.92 L104.95 58.90 L105.32 58.88 L105.69 58.86 L106.06 58.84 L106.44 58.82 L106.81 58.81 L107.19 58.79 L107.57 58.77 L107.95 58.76 L108.33 58.74 L108.71 58.73 L109.09 58.72 L109.48 58.70 L109.86 58.69 L110.25 58.68 L110.64 58.67 L111.03 58.66 L111.42 58.65 L111.82 58.64 L112.21 58.63 L112.61 58.62 L113.00 58.61 L113.40 58.60 L113.80 58.59 L114.20 58.58 L114.60 58.58 L115.01 58.57 L115.41 58.56 L115.82 58.56 L116.23 58.55 L116.64 58.54 L117.05 58.54 L117.46 58.53 L117.87 58.53 L118.29 58.52 L118.70 58.52 L119.12 58.52 L119.54 58.51 L119.96 58.51 L120.38 58.50 L120.80 58.50 L121.23 58.50 L121.65 58.49 L122.08 58.49 L122.51 58.49 L122.94 58.48 L123.37 58.48 L123.80 58.48 L124.23 58.48 L124.67 58.47 L125.10 58.47 L125.54 58.47 L125.98 58.47 L126.42 58.47 L126.86 58.46 L127.30 58.46 L127.75 58.46 L128.19 58.46 L128.64 58.46 L129.09 58.46 L129.54 58.45 L129.99 58.45 L130.44 58.45 L130.90 58.45 L131.35 58.45 L131.81 58.45 L132.27 58.45 L132.72 58.45 L133.19 58.45 L133.65 58.44 L134.11 58.44 L134.57 58.44 L135.04 58.44 L135.51 58.44 L135.98 58.44 L136.45 58.44 L136.92 58.44 L137.39 58.44 L137.86 58.44 L138.34 58.44 L138.82 58.44 L139.29 58.44 L139.77 58.44 L140.26 58.44 L140.74 58.44 L141.22 58.44 L141.71 58.44 L142.19 58.44 L142.68 58.43 L143.17 58.43 L143.66 58.43 L144.15 58.43 L144.64 58.43 L145.14 58.43 L145.63 58.43 L146.13 58.43 L146.63 58.43 L147.13 58.43 L147.63 58.43 L148.13 58.43 L148.64 58.43 L149.14 58.43 L149.65 58.43 L150.16 58.43 L150.66 58.43 L151.18 58.43 L151.69 58.43 L152.20 58.43 L152.72 58.43 L153.23 58.43 L153.75 58.43 L154.27 58.43 L154.79 58.43 L155.31 58.43 L155.83 58.43 L156.36 58.43 L156.88 58.43 L157.41 58.43 L157.94 58.43 L158.47 58.43 L159.00 58.43 L159.53 58.43 L160.06 58.43 L160.60 58.43 L161.13 58.43 L161.67 58.43 L162.21 58.43 L162.75 58.43"/><path d="M54.55 264.05 L54.55 264.04 L54.55 263.99 L54.56 263.92 L54.56 263.81 L54.57 263.68 L54.57 263.51 L54.58 263.32 L54.59 263.09 L54.60 262.84 L54.62 262.56 L54.63 262.25 L54.65 261.91 L54.66 261.54 L54.68 261.14 L54.70 260.71 L54.72 260.26 L54.75 259.77 L54.77 259.26 L54.79 258.72 L54.82 258.15 L54.85 257.56 L54.88 256.94 L54.91 256.29 L54.94 255.61 L54.97 254.91 L55.01 254.18 L55.04 253.43 L55.08 252.65 L55.12 251.85 L55.16 251.02 L55.20 250.16 L55.24 249.29 L55.29 248.39 L55.33 247.46 L55.38 246.52 L55.43 245.55 L55.48 244.56 L55.53 243.54 L55.58 242.51 L55.63 241.45 L55.69 240.38 L55.74 239.28 L55.80 238.17 L55.86 237.03 L55.92 235.88 L55.98 234.71 L56.04 233.52 L56.11 232.31 L56.17 231.09 L56.24 229.85 L56.31 228.60 L56.38 227.33 L56.45 226.04 L56.52 224.74 L56.60 223.43 L56.67 222.10 L56.75 220.76 L56.82 219.41 L56.90 218.04 L56.98 216.67 L57.07 215.28 L57.15 213.88 L57.23 212.48 L57.32 211.06 L57.41 209.63 L57.50 208.20 L57.59 206.76 L57.68 205.31 L57.77 203.85 L57.86 202.39 L57.96 200.92 L58.06 199.44 L58.15 197.96 L58.25 196.48 L58.35 194.99 L58.46 193.50 L58.56 192.00 L58.66 190.50 L58.77 189.00 L58.88 187.50 L58.99 186.00 L59.10 184.50 L59.21 182.99 L59.32 181.49 L59.44 179.98 L59.55 178.48 L59.67 176.98 L59.79 175.48 L59.91 173.98 L60.03 172.49 L60.15 170.99 L60.27 169.50 L60.40 168.02 L60.53 166.54 L60.65 165.06 L60.78 163.59 L60.91 162.12 L61.04 160.66 L61.18 159.21 L61.31 157.76 L61.45 156.32 L61.59 154.88 L61.72 153.45 L61.86 152.03 L62.01 150.62 L62.15 149.22 L62.29 147.82 L62.44 146.43 L62.58 145.05 L62.73 143.68 L62.88 142.32 L63.03 140.97 L63.19 139.63 L63.34 138.30 L63.49 136.98 L63.65 135.68 L63.81 134.38 L63.97 133.09 L64.13 131.81 L64.29 130.55 L64.45 129.29 L64.62 128.05 L64.78 126.82 L64.95 125.60 L65.12 124.40 L65.29 123.20 L65.46 122.02 L65.63 120.85 L65.80 119.70 L65.98 118.55 L66.16 117.42 L66.33 116.30 L66.51 115.20 L66.69 114.11 L66.87 113.03 L67.06 111.96 L67.24 110.91 L67.43 109.87 L67.62 108.84 L67.80 107.83 L67.99 106.83 L68.19 105.84 L68.38 104.87 L68.57 103.91 L68.77 102.96 L68.96 102.03 L69.16 101.11 L69.36 100.21 L69.56 99.31 L69.77 98.43 L69.97 97.57 L70.17 96.71 L70.38 95.87 L70.59 95.05 L70.80 94.23 L71.01 93.43 L71.22 92.64 L71.43 91.87 L71.65 91.10 L71.86 90.36 L72.08 89.62 L72.30 88.89 L72.52 88.18 L72.74 87.48 L72.96 86.80 L73.18 86.12 L73.41 85.46 L73.64 84.81 L73.86 84.17 L74.09 83.54 L74.32 82.93 L74.56 82.32 L74.79 81.73 L75.02 81.15 L75.26 80.58 L75.50 80.02 L75.74 79.47 L75.98 78.94 L76.22 78.41 L76.46 77.90 L76.70 77.39 L76.95 76.90 L77.20 76.41 L77.45 75.94 L77.69 75.47 L77.95 75.02 L78.20 74.58 L78.45 74.14 L78.71 73.72 L78.96 73.30 L79.22 72.89 L79.48 72.50 L79.74 72.11 L80.00 71.73 L80.26 71.36 L80.53 71.00 L80.79 70.64 L81.06 70.29 L81.33 69.96 L81.60 69.63 L81.87 69.31 L82.14 68.99 L82.42 68.68 L82.69 68.39 L82.97 68.09 L83.25 67.81 L83.53 67.53 L83.81 67.26 L84.09 67.00 L84.37 66.74 L84.66 66.49 L84.94 66.24 L85.23 66.01 L85.52 65.77 L85.81 65.55 L86.10 65.33 L86.39 65.12 L86.69 64.91 L86.98 64.70 L87.28 64.51 L87.58 64.31 L87.88 64.13 L88.18 63.95 L88.48 63.77 L88.79 63.60 L89.09 63.43 L89.40 63.27 L89.70 63.11 L90.01 62.96 L90.32 62.81 L90.64 62.67 L90.95 62.53 L91.26 62.39 L91.58 62.26 L91.90 62.13 L92.21 62.00 L92.53 61.88 L92.86 61.77 L93.18 61.65 L93.50 61.54 L93.83 61.43 L94.15 61.33 L94.48 61.23 L94.81 61.13 L95.14 61.04 L95.47 60.95 L95.81 60.86 L96.14 60.77 L96.48 60.69 L96.82 60.61 L97.15 60.53 L97.49 60.45 L97.84 60.38 L98.18 60.31 L98.52 60.24 L98.87 60.18 L99.22 60.11 L99.56 60.05 L99.91 59.99 L100.26 59.93 L100.62 59.88 L100.97 59.82 L101.33 59.77 L101.68 59.72 L102.04 59.67 L102.40 59.62 L102.76 59.58 L103.12 59.54 L103.48 59.49 L103.85 59.45 L104.21 59.41 L104.58 59.37 L104.95 59.34 L105.32 59.30 L105.69 59.27 L106.06 59.24 L106.44 59.20 L106.81 59.17 L107.19 59.14 L107.57 59.12 L107.95 59.09 L108.33 59.06 L108.71 59.04 L109.09 59.01 L109.48 58.99 L109.86 58.97 L110.25 58.94 L110.64 58.92 L111.03 58.90 L111.42 58.88 L111.82 58.86 L112.21 58.85 L112.61 58.83 L113.00 58.81 L113.40 58.80 L113.80 58.78 L114.20 58.77 L114.60 58.75 L115.01 58.74 L115.41 58.72 L115.82 58.71 L116.23 58.70 L116.64 58.69 L117.05 58.68 L117.46 58.67 L117.87 58.66 L118.29 58.65 L118.70 58.64 L119.12 58.63 L119.54 58.62 L119.96 58.61 L120.38 58.60 L120.80 58.59 L121.23 58.59 L121.65 58.58 L122.08 58.57 L122.51 58.57 L122.94 58.56 L123.37 58.56 L123.80 58.55 L124.23 58.54 L124.67 58.54 L125.10 58.53 L125.54 58.53 L125.98 58.52 L126.42 58.52 L126.86 58.52 L127.30 58.51 L127.75 58.51 L128.19 58.50 L128.64 58.50 L129.09 58.50 L129.54 58.49 L129.99 58.49 L130.44 58.49 L130.90 58.49 L131.35 58.48 L131.81 58.48 L132.27 58.48 L132.72 58.48 L133.19 58.47 L133.65 58.47 L134.11 58.47 L134.57 58.47 L135.04 58.47 L135.51 58.46 L135.98 58.46 L136.45 58.46 L136.92 58.46 L137.39 58.46 L137.86 58.46 L138.34 58.45 L138.82 58.45 L139.29 58.45 L139.77 58.45 L140.26 58.45 L140.74 58.45 L141.22 58.45 L141.71 58.45 L142.19 58.45 L142.68 58.45 L143.17 58.44 L143.66 58.44 L144.15 58.44 L144.64 58.44 L145.14 58.44 L145.63 58.44 L146.13 58.44 L146.63 58.44 L147.13 58.44 L147.63 58.44 L148.13 58.44 L148.64 58.44 L149.14 58.44 L149.65 58.44 L150.16 58.44 L150.66 58.44 L151.18 58.44 L151.69 58.44 L152.20 58.44 L152.72 58.44 L153.23 58.44 L153.75 58.43 L154.27 58.43 L154.79 58.43 L155.31 58.43 L155.83 58.43 L156.36 58.43 L156.88 58.43 L157.41 58.43 L157.94 58.43 L158.47 58.43 L159.00 58.43 L159.53 58.43 L160.06 58.43 L160.60 58.43 L161.13 58.43 L161.67 58.43 L162.21 58.43 L162.75 58.43"/><path d="M54.55 264.05 L54.55 264.04 L54.55 264.00 L54.56 263.93 L54.56 263.83 L54.57 263.71 L54.57 263.56 L54.58 263.39 L54.59 263.19 L54.60 262.96 L54.62 262.70 L54.63 262.42 L54.65 262.12 L54.66 261.78 L54.68 261.42 L54.70 261.04 L54.72 260.62 L54.75 260.19 L54.77 259.72 L54.79 259.23 L54.82 258.72 L54.85 258.18 L54.88 257.62 L54.91 257.03 L54.94 256.42 L54.97 255.78 L55.01 255.12 L55.04 254.44 L55.08 253.73 L55.12 253.00 L55.16 252.25 L55.20 251.48 L55.24 250.68 L55.29 249.86 L55.33 249.02 L55.38 248.16 L55.43 247.28 L55.48 246.38 L55.53 245.45 L55.58 244.51 L55.63 243.55 L55.69 242.57 L55.74 241.56 L55.80 240.55 L55.86 239.51 L55.92 238.45 L55.98 237.38 L56.04 236.29 L56.11 235.19 L56.17 234.06 L56.24 232.93 L56.31 231.77 L56.38 230.60 L56.45 229.42 L56.52 228.22 L56.60 227.01 L56.67 225.79 L56.75 224.55 L56.82 223.30 L56.90 222.04 L56.98 220.77 L57.07 219.48 L57.15 218.19 L57.23 216.88 L57.32 215.57 L57.41 214.24 L57.50 212.91 L57.59 211.57 L57.68 210.21 L57.77 208.85 L57.86 207.49 L57.96 206.12 L58.06 204.74 L58.15 203.35 L58.25 201.96 L58.35 200.56 L58.46 199.16 L58.56 197.75 L58.66 196.34 L58.77 194.93 L58.88 193.51 L58.99 192.09 L59.10 190.67 L59.21 189.24 L59.32 187.82 L59.44 186.39 L59.55 184.96 L59.67 183.53 L59.79 182.10 L59.91 180.67 L60.03 179.24 L60.15 177.82 L60.27 176.39 L60.40 174.97 L60.53 173.55 L60.65 172.13 L60.78 170.71 L60.91 169.30 L61.04 167.89 L61.18 166.48 L61.31 165.08 L61.45 163.68 L61.59 162.28 L61.72 160.90 L61.86 159.51 L62.01 158.14 L62.15 156.76 L62.29 155.40 L62.44 154.04 L62.58 152.69 L62.73 151.34 L62.88 150.00 L63.03 148.67 L63.19 147.35 L63.34 146.03 L63.49 144.73 L63.65 143.43 L63.81 142.14 L63.97 140.86 L64.13 139.58 L64.29 138.32 L64.45 137.07 L64.62 135.82 L64.78 134.59 L64.95 133.36 L65.12 132.15 L65.29 130.94 L65.46 129.75 L65.63 128.56 L65.80 127.39 L65.98 126.23 L66.16 125.08 L66.33 123.93 L66.51 122.80 L66.69 121.69 L66.87 120.58 L67.06 119.48 L67.24 118.40 L67.43 117.33 L67.62 116.26 L67.80 115.21 L67.99 114.18 L68.19 113.15 L68.38 112.14 L68.57 111.13 L68.77 110.14 L68.96 109.16 L69.16 108.20 L69.36 107.24 L69.56 106.30 L69.77 105.37 L69.97 104.45 L70.17 103.55 L70.38 102.65 L70.59 101.77 L70.80 100.90 L71.01 100.04 L71.22 99.19 L71.43 98.36 L71.65 97.54 L71.86 96.73 L72.08 95.93 L72.30 95.14 L72.52 94.37 L72.74 93.60 L72.96 92.85 L73.18 92.11 L73.41 91.38 L73.64 90.67 L73.86 89.96 L74.09 89.27 L74.32 88.58 L74.56 87.91 L74.79 87.25 L75.02 86.60 L75.26 85.97 L75.50 85.34 L75.74 84.72 L75.98 84.12 L76.22 83.52 L76.46 82.94 L76.70 82.36 L76.95 81.80 L77.20 81.25 L77.45 80.70 L77.69 80.17 L77.95 79.65 L78.20 79.13 L78.45 78.63 L78.71 78.14 L78.96 77.65 L79.22 77.18 L79.48 76.71 L79.74 76.25 L80.00 75.81 L80.26 75.37 L80.53 74.94 L80.79 74.52 L81.06 74.11 L81.33 73.70 L81.60 73.31 L81.87 72.92 L82.14 72.54 L82.42 72.17 L82.69 71.81 L82.97 71.46 L83.25 71.11 L83.53 70.77 L83.81 70.44 L84.09 70.12 L84.37 69.80 L84.66 69.49 L84.94 69.19 L85.23 68.89 L85.52 68.60 L85.81 68.32 L86.10 68.04 L86.39 67.77 L86.69 67.51 L86.98 67.25 L87.28 67.00 L87.58 66.76 L87.88 66.52 L88.18 66.29 L88.48 66.06 L88.79 65.84 L89.09 65.62 L89.40 65.41 L89.70 65.20 L90.01 65.00 L90.32 64.81 L90.64 64.62 L90.95 64.43 L91.26 64.25 L91.58 64.08 L91.90 63.91 L92.21 63.74 L92.53 63.58 L92.86 63.42 L93.18 63.27 L93.50 63.12 L93.83 62.97 L94.15 62.83 L94.48 62.69 L94.81 62.56 L95.14 62.43 L95.47 62.30 L95.81 62.18 L96.14 62.06 L96.48 61.94 L96.82 61.83 L97.15 61.72 L97.49 61.61 L97.84 61.51 L98.18 61.41 L98.52 61.31 L98.87 61.21 L99.22 61.12 L99.56 61.03 L99.91 60.94 L100.26 60.86 L100.62 60.78 L100.97 60.70 L101.33 60.62 L101.68 60.55 L102.04 60.48 L102.40 60.41 L102.76 60.34 L103.12 60.27 L103.48 60.21 L103.85 60.15 L104.21 60.09 L104.58 60.03 L104.95 59.97 L105.32 59.92 L105.69 59.86 L106.06 59.81 L106.44 59.76 L106.81 59.72 L107.19 59.67 L107.57 59.63 L107.95 59.58 L108.33 59.54 L108.71 59.50 L109.09 59.46 L109.48 59.42 L109.86 59.39 L110.25 59.35 L110.64 59.32 L111.03 59.28 L111.42 59.25 L111.82 59.22 L112.21 59.19 L112.61 59.16 L113.00 59.14 L113.40 59.11 L113.80 59.08 L114.20 59.06 L114.60 59.03 L115.01 59.01 L115.41 58.99 L115.82 58.97 L116.23 58.95 L116.64 58.93 L117.05 58.91 L117.46 58.89 L117.87 58.87 L118.29 58.85 L118.70 58.84 L119.12 58.82 L119.54 58.80 L119.96 58.79 L120.38 58.77 L120.80 58.76 L121.23 58.75 L121.65 58.73 L122.08 58.72 L122.51 58.71 L122.94 58.70 L123.37 58.69 L123.80 58.68 L124.23 58.67 L124.67 58.66 L125.10 58.65 L125.54 58.64 L125.98 58.63 L126.42 58.62 L126.86 58.61 L127.30 58.61 L127.75 58.60 L128.19 58.59 L128.64 58.58 L129.09 58.58 L129.54 58.57 L129.99 58.57 L130.44 58.56 L130.90 58.55 L131.35 58.55 L131.81 58.54 L132.27 58.54 L132.72 58.53 L133.19 58.53 L133.65 58.53 L134.11 58.52 L134.57 58.52 L135.04 58.51 L135.51 58.51 L135.98 58.51 L136.45 58.50 L136.92 58.50 L137.39 58.50 L137.86 58.49 L138.34 58.49 L138.82 58.49 L139.29 58.48 L139.77 58.48 L140.26 58.48 L140.74 58.48 L141.22 58.48 L141.71 58.47 L142.19 58.47 L142.68 58.47 L143.17 58.47 L143.66 58.47 L144.15 58.46 L144.64 58.46 L145.14 58.46 L145.63 58.46 L146.13 58.46 L146.63 58.46 L147.13 58.46 L147.63 58.45 L148.13 58.45 L148.64 58.45 L149.14 58.45 L149.65 58.45 L150.16 58.45 L150.66 58.45 L151.18 58.45 L151.69 58.45 L152.20 58.45 L152.72 58.44 L153.23 58.44 L153.75 58.44 L154.27 58.44 L154.79 58.44 L155.31 58.44 L155.83 58.44 L156.36 58.44 L156.88 58.44 L157.41 58.44 L157.94 58.44 L158.47 58.44 L159.00 58.44 L159.53 58.44 L160.06 58.44 L160.60 58.44 L161.13 58.44 L161.67 58.44 L162.21 58.44 L162.75 58.44"/><path d="M54.55 264.05 L54.55 264.04 L54.55 264.00 L54.56 263.94 L54.56 263.85 L54.57 263.74 L54.57 263.61 L54.58 263.45 L54.59 263.26 L54.60 263.06 L54.62 262.82 L54.63 262.57 L54.65 262.29 L54.66 261.98 L54.68 261.65 L54.70 261.30 L54.72 260.93 L54.75 260.53 L54.77 260.10 L54.79 259.66 L54.82 259.19 L54.85 258.70 L54.88 258.18 L54.91 257.65 L54.94 257.09 L54.97 256.51 L55.01 255.90 L55.04 255.28 L55.08 254.63 L55.12 253.96 L55.16 253.27 L55.20 252.56 L55.24 251.83 L55.29 251.08 L55.33 250.31 L55.38 249.52 L55.43 248.71 L55.48 247.89 L55.53 247.04 L55.58 246.17 L55.63 245.29 L55.69 244.38 L55.74 243.46 L55.80 242.52 L55.86 241.57 L55.92 240.60 L55.98 239.61 L56.04 238.60 L56.11 237.58 L56.17 236.54 L56.24 235.49 L56.31 234.43 L56.38 233.35 L56.45 232.25 L56.52 231.14 L56.60 230.02 L56.67 228.88 L56.75 227.74 L56.82 226.58 L56.90 225.40 L56.98 224.22 L57.07 223.02 L57.15 221.82 L57.23 220.60 L57.32 219.37 L57.41 218.14 L57.50 216.89 L57.59 215.63 L57.68 214.37 L57.77 213.10 L57.86 211.82 L57.96 210.53 L58.06 209.23 L58.15 207.93 L58.25 206.62 L58.35 205.31 L58.46 203.99 L58.56 202.66 L58.66 201.33 L58.77 200.00 L58.88 198.66 L58.99 197.31 L59.10 195.96 L59.21 194.61 L59.32 193.26 L59.44 191.90 L59.55 190.55 L59.67 189.19 L59.79 187.83 L59.91 186.46 L60.03 185.10 L60.15 183.74 L60.27 182.37 L60.40 181.01 L60.53 179.64 L60.65 178.28 L60.78 176.92 L60.91 175.56 L61.04 174.20 L61.18 172.85 L61.31 171.49 L61.45 170.14 L61.59 168.79 L61.72 167.45 L61.86 166.11 L62.01 164.77 L62.15 163.44 L62.29 162.11 L62.44 160.78 L62.58 159.46 L62.73 158.15 L62.88 156.84 L63.03 155.53 L63.19 154.24 L63.34 152.94 L63.49 151.66 L63.65 150.38 L63.81 149.11 L63.97 147.84 L64.13 146.58 L64.29 145.33 L64.45 144.09 L64.62 142.85 L64.78 141.62 L64.95 140.40 L65.12 139.19 L65.29 137.99 L65.46 136.79 L65.63 135.61 L65.80 134.43 L65.98 133.26 L66.16 132.10 L66.33 130.95 L66.51 129.81 L66.69 128.68 L66.87 127.56 L67.06 126.45 L67.24 125.35 L67.43 124.26 L67.62 123.18 L67.80 122.10 L67.99 121.04 L68.19 119.99 L68.38 118.95 L68.57 117.92 L68.77 116.90 L68.96 115.89 L69.16 114.90 L69.36 113.91 L69.56 112.93 L69.77 111.97 L69.97 111.01 L70.17 110.07 L70.38 109.13 L70.59 108.21 L70.80 107.30 L71.01 106.40 L71.22 105.51 L71.43 104.63 L71.65 103.76 L71.86 102.91 L72.08 102.06 L72.30 101.22 L72.52 100.40 L72.74 99.59 L72.96 98.79 L73.18 97.99 L73.41 97.21 L73.64 96.45 L73.86 95.69 L74.09 94.94 L74.32 94.20 L74.56 93.48 L74.79 92.76 L75.02 92.05 L75.26 91.36 L75.50 90.68 L75.74 90.00 L75.98 89.34 L76.22 88.69 L76.46 88.04 L76.70 87.41 L76.95 86.79 L77.20 86.18 L77.45 85.57 L77.69 84.98 L77.95 84.40 L78.20 83.83 L78.45 83.26 L78.71 82.71 L78.96 82.16 L79.22 81.63 L79.48 81.10 L79.74 80.59 L80.00 80.08 L80.26 79.58 L80.53 79.09 L80.79 78.61 L81.06 78.14 L81.33 77.68 L81.60 77.23 L81.87 76.78 L82.14 76.34 L82.42 75.92 L82.69 75.50 L82.97 75.08 L83.25 74.68 L83.53 74.28 L83.81 73.89 L84.09 73.51 L84.37 73.14 L84.66 72.77 L84.94 72.42 L85.23 72.06 L85.52 71.72 L85.81 71.38 L86.10 71.05 L86.39 70.73 L86.69 70.42 L86.98 70.11 L87.28 69.80 L87.58 69.51 L87.88 69.22 L88.18 68.93 L88.48 68.66 L88.79 68.39 L89.09 68.12 L89.40 67.86 L89.70 67.61 L90.01 67.36 L90.32 67.12 L90.64 66.88 L90.95 66.65 L91.26 66.43 L91.58 66.21 L91.90 65.99 L92.21 65.78 L92.53 65.58 L92.86 65.38 L93.18 65.18 L93.50 64.99 L93.83 64.80 L94.15 64.62 L94.48 64.45 L94.81 64.27 L95.14 64.10 L95.47 63.94 L95.81 63.78 L96.14 63.62 L96.48 63.47 L96.82 63.32 L97.15 63.18 L97.49 63.04 L97.84 62.90 L98.18 62.77 L98.52 62.64 L98.87 62.51 L99.22 62.39 L99.56 62.27 L99.91 62.15 L100.26 62.04 L100.62 61.93 L100.97 61.82 L101.33 61.71 L101.68 61.61 L102.04 61.51 L102.40 61.42 L102.76 61.32 L103.12 61.23 L103.48 61.14 L103.85 61.06 L104.21 60.97 L104.58 60.89 L104.95 60.81 L105.32 60.74 L105.69 60.66 L106.06 60.59 L106.44 60.52 L106.81 60.45 L107.19 60.39 L107.57 60.32 L107.95 60.26 L108.33 60.20 L108.71 60.14 L109.09 60.08 L109.48 60.03 L109.86 59.97 L110.25 59.92 L110.64 59.87 L111.03 59.82 L111.42 59.77 L111.82 59.73 L112.21 59.68 L112.61 59.64 L113.00 59.60 L113.40 59.56 L113.80 59.52 L114.20 59.48 L114.60 59.44 L115.01 59.41 L115.41 59.37 L115.82 59.34 L116.23 59.31 L116.64 59.28 L117.05 59.25 L117.46 59.22 L117.87 59.19 L118.29 59.16 L118.70 59.14 L119.12 59.11 L119.54 59.09 L119.96 59.06 L120.38 59.04 L120.80 59.02 L121.23 59.00 L121.65 58.97 L122.08 58.95 L122.51 58.93 L122.94 58.92 L123.37 58.90 L123.80 58.88 L124.23 58.86 L124.67 58.85 L125.10 58.83 L125.54 58.82 L125.98 58.80 L126.42 58.79 L126.86 58.77 L127.30 58.76 L127.75 58.75 L128.19 58.74 L128.64 58.72 L129.09 58.71 L129.54 58.70 L129.99 58.69 L130.44 58.68 L130.90 58.67 L131.35 58.66 L131.81 58.65 L132.27 58.64 L132.72 58.63 L133.19 58.63 L133.65 58.62 L134.11 58.61 L134.57 58.60 L135.04 58.60 L135.51 58.59 L135.98 58.58 L136.45 58.58 L136.92 58.57 L137.39 58.57 L137.86 58.56 L138.34 58.55 L138.82 58.55 L139.29 58.54 L139.77 58.54 L140.26 58.53 L140.74 58.53 L141.22 58.53 L141.71 58.52 L142.19 58.52 L142.68 58.51 L143.17 58.51 L143.66 58.51 L144.15 58.50 L144.64 58.50 L145.14 58.50 L145.63 58.50 L146.13 58.49 L146.63 58.49 L147.13 58.49 L147.63 58.48 L148.13 58.48 L148.64 58.48 L149.14 58.48 L149.65 58.48 L150.16 58.47 L150.66 58.47 L151.18 58.47 L151.69 58.47 L152.20 58.47 L152.72 58.46 L153.23 58.46 L153.75 58.46 L154.27 58.46 L154.79 58.46 L155.31 58.46 L155.83 58.46 L156.36 58.46 L156.88 58.45 L157.41 58.45 L157.94 58.45 L158.47 58.45 L159.00 58.45 L159.53 58.45 L160.06 58.45 L160.60 58.45 L161.13 58.45 L161.67 58.45 L162.21 58.45 L162.75 58.44"/></g></g><g clip-path="url(#cb)"><g stroke="#0000ff" stroke-width="0.95" fill="none" stroke-linejoin="round" filter="url(#soft2)"><path d="M162.75 58.43 L162.75 58.54 L162.75 58.88 L162.76 59.43 L162.76 60.21 L162.77 61.20 L162.77 62.41 L162.78 63.83 L162.79 65.46 L162.80 67.29 L162.82 69.31 L162.83 71.52 L162.85 73.91 L162.86 76.47 L162.88 79.21 L162.90 82.10 L162.92 85.14 L162.95 88.32 L162.97 91.63 L162.99 95.06 L163.02 98.61 L163.05 102.25 L163.08 105.99 L163.11 109.81 L163.14 113.70 L163.17 117.65 L163.21 121.65 L163.24 125.69 L163.28 129.77 L163.32 133.86 L163.36 137.97 L163.40 142.08 L163.44 146.19 L163.49 150.28 L163.53 154.35 L163.58 158.39 L163.63 162.39 L163.68 166.34 L163.73 170.24 L163.78 174.09 L163.83 177.87 L163.89 181.58 L163.94 185.22 L164.00 188.78 L164.06 192.25 L164.12 195.64 L164.18 198.94 L164.24 202.15 L164.31 205.27 L164.37 208.29 L164.44 211.21 L164.51 214.03 L164.58 216.75 L164.65 219.38 L164.72 221.90 L164.80 224.32 L164.87 226.65 L164.95 228.88 L165.02 231.01 L165.10 233.04 L165.18 234.99 L165.27 236.84 L165.35 238.60 L165.43 240.27 L165.52 241.85 L165.61 243.36 L165.70 244.78 L165.79 246.12 L165.88 247.39 L165.97 248.59 L166.06 249.71 L166.16 250.77 L166.26 251.76 L166.35 252.69 L166.45 253.57 L166.55 254.38 L166.66 255.14 L166.76 255.85 L166.86 256.52 L166.97 257.13 L167.08 257.70 L167.19 258.24 L167.30 258.73 L167.41 259.19 L167.52 259.61 L167.64 260.00 L167.75 260.36 L167.87 260.69 L167.99 260.99 L168.11 261.27 L168.23 261.53 L168.35 261.77 L168.47 261.98 L168.60 262.18 L168.73 262.36 L168.85 262.53 L168.98 262.68 L169.11 262.81 L169.24 262.94 L169.38 263.05 L169.51 263.15 L169.65 263.25 L169.79 263.33 L169.92 263.41 L170.06 263.47 L170.21 263.54 L170.35 263.59 L170.49 263.64 L170.64 263.69 L170.78 263.73 L170.93 263.76 L171.08 263.80 L171.23 263.82 L171.39 263.85 L171.54 263.87 L171.69 263.89 L171.85 263.91 L172.01 263.93 L172.17 263.94 L172.33 263.96 L172.49 263.97 L172.65 263.98 L172.82 263.99 L172.98 263.99 L173.15 264.00 L173.32 264.01 L173.49 264.01 L173.66 264.02 L173.83 264.02 L174.00 264.03 L174.18 264.03 L174.36 264.03 L174.53 264.03 L174.71 264.04 L174.89 264.04 L175.07 264.04 L175.26 264.04 L175.44 264.04 L175.63 264.04 L175.82 264.04 L176.00 264.05 L176.19 264.05 L176.39 264.05 L176.58 264.05 L176.77 264.05 L176.97 264.05 L177.16 264.05 L177.36 264.05 L177.56 264.05 L177.76 264.05 L177.97 264.05 L178.17 264.05 L178.37 264.05 L178.58 264.05 L178.79 264.05 L179.00 264.05 L179.21 264.05 L179.42 264.05 L179.63 264.05 L179.85 264.05 L180.06 264.05 L180.28 264.05 L180.50 264.05 L180.72 264.05 L180.94 264.05 L181.16 264.05 L181.38 264.05 L181.61 264.05 L181.84 264.05 L182.06 264.05 L182.29 264.05 L182.52 264.05 L182.76 264.05 L182.99 264.05 L183.22 264.05 L183.46 264.05 L183.70 264.05 L183.94 264.05 L184.18 264.05 L184.42 264.05 L184.66 264.05 L184.90 264.05 L185.15 264.05 L185.40 264.05 L185.65 264.05 L185.89 264.05 L186.15 264.05 L186.40 264.05 L186.65 264.05 L186.91 264.05 L187.16 264.05 L187.42 264.05 L187.68 264.05 L187.94 264.05 L188.20 264.05 L188.46 264.05 L188.73 264.05 L188.99 264.05 L189.26 264.05 L189.53 264.05 L189.80 264.05 L190.07 264.05 L190.34 264.05 L190.62 264.05 L190.89 264.05 L191.17 264.05 L191.45 264.05 L191.73 264.05 L192.01 264.05 L192.29 264.05 L192.57 264.05 L192.86 264.05 L193.14 264.05 L193.43 264.05 L193.72 264.05 L194.01 264.05 L194.30 264.05 L194.59 264.05 L194.89 264.05 L195.18 264.05 L195.48 264.05 L195.78 264.05 L196.08 264.05 L196.38 264.05 L196.68 264.05 L196.99 264.05 L197.29 264.05 L197.60 264.05 L197.90 264.05 L198.21 264.05 L198.52 264.05 L198.84 264.05 L199.15 264.05 L199.46 264.05 L199.78 264.05 L200.10 264.05 L200.41 264.05 L200.73 264.05 L201.06 264.05 L201.38 264.05 L201.70 264.05 L202.03 264.05 L202.35 264.05 L202.68 264.05 L203.01 264.05 L203.34 264.05 L203.67 264.05 L204.01 264.05 L204.34 264.05 L204.68 264.05 L205.02 264.05 L205.35 264.05 L205.69 264.05 L206.04 264.05 L206.38 264.05 L206.72 264.05 L207.07 264.05 L207.42 264.05 L207.76 264.05 L208.11 264.05 L208.46 264.05 L208.82 264.05 L209.17 264.05 L209.53 264.05 L209.88 264.05 L210.24 264.05 L210.60 264.05 L210.96 264.05 L211.32 264.05 L211.68 264.05 L212.05 264.05 L212.41 264.05 L212.78 264.05 L213.15 264.05 L213.52 264.05 L213.89 264.05 L214.26 264.05 L214.64 264.05 L215.01 264.05 L215.39 264.05 L215.77 264.05 L216.15 264.05 L216.53 264.05 L216.91 264.05 L217.29 264.05 L217.68 264.05 L218.06 264.05 L218.45 264.05 L218.84 264.05 L219.23 264.05 L219.62 264.05 L220.02 264.05 L220.41 264.05 L220.81 264.05 L221.20 264.05 L221.60 264.05 L222.00 264.05 L222.40 264.05 L222.80 264.05 L223.21 264.05 L223.61 264.05 L224.02 264.05 L224.43 264.05 L224.84 264.05 L225.25 264.05 L225.66 264.05 L226.07 264.05 L226.49 264.05 L226.90 264.05 L227.32 264.05 L227.74 264.05 L228.16 264.05 L228.58 264.05 L229.00 264.05 L229.43 264.05 L229.85 264.05 L230.28 264.05 L230.71 264.05 L231.14 264.05 L231.57 264.05 L232.00 264.05 L232.43 264.05 L232.87 264.05 L233.30 264.05 L233.74 264.05 L234.18 264.05 L234.62 264.05 L235.06 264.05 L235.50 264.05 L235.95 264.05 L236.39 264.05 L236.84 264.05 L237.29 264.05 L237.74 264.05 L238.19 264.05 L238.64 264.05 L239.10 264.05 L239.55 264.05 L240.01 264.05 L240.47 264.05 L240.92 264.05 L241.39 264.05 L241.85 264.05 L242.31 264.05 L242.77 264.05 L243.24 264.05 L243.71 264.05 L244.18 264.05 L244.65 264.05 L245.12 264.05 L245.59 264.05 L246.06 264.05 L246.54 264.05 L247.02 264.05 L247.49 264.05 L247.97 264.05 L248.46 264.05 L248.94 264.05 L249.42 264.05 L249.91 264.05 L250.39 264.05 L250.88 264.05 L251.37 264.05 L251.86 264.05 L252.35 264.05 L252.84 264.05 L253.34 264.05 L253.83 264.05 L254.33 264.05 L254.83 264.05 L255.33 264.05 L255.83 264.05 L256.33 264.05 L256.84 264.05 L257.34 264.05 L257.85 264.05 L258.36 264.05 L258.86 264.05 L259.38 264.05 L259.89 264.05 L260.40 264.05 L260.92 264.05 L261.43 264.05 L261.95 264.05 L262.47 264.05 L262.99 264.05 L263.51 264.05 L264.03 264.05 L264.56 264.05 L265.08 264.05 L265.61 264.05 L266.14 264.05 L266.67 264.05 L267.20 264.05 L267.73 264.05 L268.26 264.05 L268.80 264.05 L269.33 264.05 L269.87 264.05 L270.41 264.05 L270.95 264.05"/><path d="M162.75 58.43 L162.75 58.49 L162.75 58.68 L162.76 58.99 L162.76 59.42 L162.77 59.97 L162.77 60.64 L162.78 61.44 L162.79 62.35 L162.80 63.37 L162.82 64.52 L162.83 65.77 L162.85 67.14 L162.86 68.61 L162.88 70.19 L162.90 71.87 L162.92 73.65 L162.95 75.53 L162.97 77.50 L162.99 79.57 L163.02 81.72 L163.05 83.95 L163.08 86.26 L163.11 88.65 L163.14 91.11 L163.17 93.64 L163.21 96.23 L163.24 98.88 L163.28 101.59 L163.32 104.35 L163.36 107.15 L163.40 110.00 L163.44 112.89 L163.49 115.81 L163.53 118.77 L163.58 121.75 L163.63 124.75 L163.68 127.78 L163.73 130.81 L163.78 133.86 L163.83 136.91 L163.89 139.97 L163.94 143.03 L164.00 146.08 L164.06 149.12 L164.12 152.16 L164.18 155.17 L164.24 158.17 L164.31 161.15 L164.37 164.11 L164.44 167.04 L164.51 169.94 L164.58 172.81 L164.65 175.64 L164.72 178.44 L164.80 181.20 L164.87 183.91 L164.95 186.59 L165.02 189.22 L165.10 191.81 L165.18 194.34 L165.27 196.83 L165.35 199.27 L165.43 201.66 L165.52 204.00 L165.61 206.28 L165.70 208.51 L165.79 210.68 L165.88 212.81 L165.97 214.87 L166.06 216.88 L166.16 218.84 L166.26 220.74 L166.35 222.59 L166.45 224.38 L166.55 226.12 L166.66 227.80 L166.76 229.43 L166.86 231.00 L166.97 232.53 L167.08 234.00 L167.19 235.42 L167.30 236.79 L167.41 238.10 L167.52 239.37 L167.64 240.60 L167.75 241.77 L167.87 242.90 L167.99 243.98 L168.11 245.02 L168.23 246.02 L168.35 246.97 L168.47 247.89 L168.60 248.76 L168.73 249.60 L168.85 250.39 L168.98 251.16 L169.11 251.88 L169.24 252.57 L169.38 253.23 L169.51 253.86 L169.65 254.46 L169.79 255.03 L169.92 255.57 L170.06 256.08 L170.21 256.56 L170.35 257.02 L170.49 257.46 L170.64 257.87 L170.78 258.26 L170.93 258.63 L171.08 258.98 L171.23 259.31 L171.39 259.62 L171.54 259.91 L171.69 260.18 L171.85 260.44 L172.01 260.69 L172.17 260.92 L172.33 261.13 L172.49 261.33 L172.65 261.52 L172.82 261.70 L172.98 261.87 L173.15 262.02 L173.32 262.17 L173.49 262.31 L173.66 262.43 L173.83 262.55 L174.00 262.66 L174.18 262.77 L174.36 262.87 L174.53 262.96 L174.71 263.04 L174.89 263.12 L175.07 263.19 L175.26 263.26 L175.44 263.32 L175.63 263.38 L175.82 263.43 L176.00 263.48 L176.19 263.53 L176.39 263.57 L176.58 263.61 L176.77 263.65 L176.97 263.68 L177.16 263.71 L177.36 263.74 L177.56 263.77 L177.76 263.79 L177.97 263.81 L178.17 263.83 L178.37 263.85 L178.58 263.87 L178.79 263.88 L179.00 263.90 L179.21 263.91 L179.42 263.93 L179.63 263.94 L179.85 263.95 L180.06 263.96 L180.28 263.96 L180.50 263.97 L180.72 263.98 L180.94 263.99 L181.16 263.99 L181.38 264.00 L181.61 264.00 L181.84 264.01 L182.06 264.01 L182.29 264.02 L182.52 264.02 L182.76 264.02 L182.99 264.02 L183.22 264.03 L183.46 264.03 L183.70 264.03 L183.94 264.03 L184.18 264.03 L184.42 264.04 L184.66 264.04 L184.90 264.04 L185.15 264.04 L185.40 264.04 L185.65 264.04 L185.89 264.04 L186.15 264.04 L186.40 264.04 L186.65 264.04 L186.91 264.05 L187.16 264.05 L187.42 264.05 L187.68 264.05 L187.94 264.05 L188.20 264.05 L188.46 264.05 L188.73 264.05 L188.99 264.05 L189.26 264.05 L189.53 264.05 L189.80 264.05 L190.07 264.05 L190.34 264.05 L190.62 264.05 L190.89 264.05 L191.17 264.05 L191.45 264.05 L191.73 264.05 L192.01 264.05 L192.29 264.05 L192.57 264.05 L192.86 264.05 L193.14 264.05 L193.43 264.05 L193.72 264.05 L194.01 264.05 L194.30 264.05 L194.59 264.05 L194.89 264.05 L195.18 264.05 L195.48 264.05 L195.78 264.05 L196.08 264.05 L196.38 264.05 L196.68 264.05 L196.99 264.05 L197.29 264.05 L197.60 264.05 L197.90 264.05 L198.21 264.05 L198.52 264.05 L198.84 264.05 L199.15 264.05 L199.46 264.05 L199.78 264.05 L200.10 264.05 L200.41 264.05 L200.73 264.05 L201.06 264.05 L201.38 264.05 L201.70 264.05 L202.03 264.05 L202.35 264.05 L202.68 264.05 L203.01 264.05 L203.34 264.05 L203.67 264.05 L204.01 264.05 L204.34 264.05 L204.68 264.05 L205.02 264.05 L205.35 264.05 L205.69 264.05 L206.04 264.05 L206.38 264.05 L206.72 264.05 L207.07 264.05 L207.42 264.05 L207.76 264.05 L208.11 264.05 L208.46 264.05 L208.82 264.05 L209.17 264.05 L209.53 264.05 L209.88 264.05 L210.24 264.05 L210.60 264.05 L210.96 264.05 L211.32 264.05 L211.68 264.05 L212.05 264.05 L212.41 264.05 L212.78 264.05 L213.15 264.05 L213.52 264.05 L213.89 264.05 L214.26 264.05 L214.64 264.05 L215.01 264.05 L215.39 264.05 L215.77 264.05 L216.15 264.05 L216.53 264.05 L216.91 264.05 L217.29 264.05 L217.68 264.05 L218.06 264.05 L218.45 264.05 L218.84 264.05 L219.23 264.05 L219.62 264.05 L220.02 264.05 L220.41 264.05 L220.81 264.05 L221.20 264.05 L221.60 264.05 L222.00 264.05 L222.40 264.05 L222.80 264.05 L223.21 264.05 L223.61 264.05 L224.02 264.05 L224.43 264.05 L224.84 264.05 L225.25 264.05 L225.66 264.05 L226.07 264.05 L226.49 264.05 L226.90 264.05 L227.32 264.05 L227.74 264.05 L228.16 264.05 L228.58 264.05 L229.00 264.05 L229.43 264.05 L229.85 264.05 L230.28 264.05 L230.71 264.05 L231.14 264.05 L231.57 264.05 L232.00 264.05 L232.43 264.05 L232.87 264.05 L233.30 264.05 L233.74 264.05 L234.18 264.05 L234.62 264.05 L235.06 264.05 L235.50 264.05 L235.95 264.05 L236.39 264.05 L236.84 264.05 L237.29 264.05 L237.74 264.05 L238.19 264.05 L238.64 264.05 L239.10 264.05 L239.55 264.05 L240.01 264.05 L240.47 264.05 L240.92 264.05 L241.39 264.05 L241.85 264.05 L242.31 264.05 L242.77 264.05 L243.24 264.05 L243.71 264.05 L244.18 264.05 L244.65 264.05 L245.12 264.05 L245.59 264.05 L246.06 264.05 L246.54 264.05 L247.02 264.05 L247.49 264.05 L247.97 264.05 L248.46 264.05 L248.94 264.05 L249.42 264.05 L249.91 264.05 L250.39 264.05 L250.88 264.05 L251.37 264.05 L251.86 264.05 L252.35 264.05 L252.84 264.05 L253.34 264.05 L253.83 264.05 L254.33 264.05 L254.83 264.05 L255.33 264.05 L255.83 264.05 L256.33 264.05 L256.84 264.05 L257.34 264.05 L257.85 264.05 L258.36 264.05 L258.86 264.05 L259.38 264.05 L259.89 264.05 L260.40 264.05 L260.92 264.05 L261.43 264.05 L261.95 264.05 L262.47 264.05 L262.99 264.05 L263.51 264.05 L264.03 264.05 L264.56 264.05 L265.08 264.05 L265.61 264.05 L266.14 264.05 L266.67 264.05 L267.20 264.05 L267.73 264.05 L268.26 264.05 L268.80 264.05 L269.33 264.05 L269.87 264.05 L270.41 264.05 L270.95 264.05"/><path d="M162.75 58.43 L162.75 58.47 L162.75 58.60 L162.76 58.81 L162.76 59.11 L162.77 59.49 L162.77 59.96 L162.78 60.51 L162.79 61.14 L162.80 61.86 L162.82 62.66 L162.83 63.53 L162.85 64.49 L162.86 65.52 L162.88 66.63 L162.90 67.82 L162.92 69.07 L162.95 70.41 L162.97 71.81 L162.99 73.28 L163.02 74.82 L163.05 76.42 L163.08 78.09 L163.11 79.82 L163.14 81.61 L163.17 83.46 L163.21 85.36 L163.24 87.31 L163.28 89.32 L163.32 91.38 L163.36 93.48 L163.40 95.63 L163.44 97.81 L163.49 100.04 L163.53 102.31 L163.58 104.61 L163.63 106.94 L163.68 109.31 L163.73 111.70 L163.78 114.11 L163.83 116.55 L163.89 119.01 L163.94 121.49 L164.00 123.99 L164.06 126.49 L164.12 129.01 L164.18 131.54 L164.24 134.07 L164.31 136.61 L164.37 139.15 L164.44 141.69 L164.51 144.23 L164.58 146.77 L164.65 149.30 L164.72 151.82 L164.80 154.33 L164.87 156.83 L164.95 159.32 L165.02 161.79 L165.10 164.24 L165.18 166.68 L165.27 169.10 L165.35 171.49 L165.43 173.86 L165.52 176.21 L165.61 178.53 L165.70 180.83 L165.79 183.09 L165.88 185.33 L165.97 187.54 L166.06 189.71 L166.16 191.86 L166.26 193.97 L166.35 196.05 L166.45 198.09 L166.55 200.10 L166.66 202.08 L166.76 204.02 L166.86 205.92 L166.97 207.78 L167.08 209.61 L167.19 211.40 L167.30 213.15 L167.41 214.86 L167.52 216.54 L167.64 218.18 L167.75 219.78 L167.87 221.34 L167.99 222.87 L168.11 224.35 L168.23 225.80 L168.35 227.21 L168.47 228.58 L168.60 229.92 L168.73 231.22 L168.85 232.48 L168.98 233.71 L169.11 234.90 L169.24 236.06 L169.38 237.18 L169.51 238.27 L169.65 239.32 L169.79 240.34 L169.92 241.33 L170.06 242.29 L170.21 243.21 L170.35 244.11 L170.49 244.97 L170.64 245.80 L170.78 246.61 L170.93 247.38 L171.08 248.13 L171.23 248.85 L171.39 249.54 L171.54 250.21 L171.69 250.85 L171.85 251.47 L172.01 252.07 L172.17 252.64 L172.33 253.18 L172.49 253.71 L172.65 254.21 L172.82 254.70 L172.98 255.16 L173.15 255.61 L173.32 256.03 L173.49 256.44 L173.66 256.83 L173.83 257.20 L174.00 257.56 L174.18 257.90 L174.36 258.22 L174.53 258.53 L174.71 258.83 L174.89 259.11 L175.07 259.38 L175.26 259.63 L175.44 259.88 L175.63 260.11 L175.82 260.33 L176.00 260.54 L176.19 260.74 L176.39 260.93 L176.58 261.11 L176.77 261.28 L176.97 261.44 L177.16 261.59 L177.36 261.74 L177.56 261.87 L177.76 262.00 L177.97 262.13 L178.17 262.24 L178.37 262.35 L178.58 262.46 L178.79 262.56 L179.00 262.65 L179.21 262.74 L179.42 262.82 L179.63 262.90 L179.85 262.97 L180.06 263.04 L180.28 263.10 L180.50 263.17 L180.72 263.22 L180.94 263.28 L181.16 263.33 L181.38 263.38 L181.61 263.42 L181.84 263.46 L182.06 263.50 L182.29 263.54 L182.52 263.58 L182.76 263.61 L182.99 263.64 L183.22 263.67 L183.46 263.69 L183.70 263.72 L183.94 263.74 L184.18 263.76 L184.42 263.78 L184.66 263.80 L184.90 263.82 L185.15 263.84 L185.40 263.85 L185.65 263.87 L185.89 263.88 L186.15 263.89 L186.40 263.91 L186.65 263.92 L186.91 263.93 L187.16 263.94 L187.42 263.94 L187.68 263.95 L187.94 263.96 L188.20 263.97 L188.46 263.97 L188.73 263.98 L188.99 263.98 L189.26 263.99 L189.53 263.99 L189.80 264.00 L190.07 264.00 L190.34 264.01 L190.62 264.01 L190.89 264.01 L191.17 264.02 L191.45 264.02 L191.73 264.02 L192.01 264.02 L192.29 264.03 L192.57 264.03 L192.86 264.03 L193.14 264.03 L193.43 264.03 L193.72 264.03 L194.01 264.04 L194.30 264.04 L194.59 264.04 L194.89 264.04 L195.18 264.04 L195.48 264.04 L195.78 264.04 L196.08 264.04 L196.38 264.04 L196.68 264.04 L196.99 264.04 L197.29 264.04 L197.60 264.05 L197.90 264.05 L198.21 264.05 L198.52 264.05 L198.84 264.05 L199.15 264.05 L199.46 264.05 L199.78 264.05 L200.10 264.05 L200.41 264.05 L200.73 264.05 L201.06 264.05 L201.38 264.05 L201.70 264.05 L202.03 264.05 L202.35 264.05 L202.68 264.05 L203.01 264.05 L203.34 264.05 L203.67 264.05 L204.01 264.05 L204.34 264.05 L204.68 264.05 L205.02 264.05 L205.35 264.05 L205.69 264.05 L206.04 264.05 L206.38 264.05 L206.72 264.05 L207.07 264.05 L207.42 264.05 L207.76 264.05 L208.11 264.05 L208.46 264.05 L208.82 264.05 L209.17 264.05 L209.53 264.05 L209.88 264.05 L210.24 264.05 L210.60 264.05 L210.96 264.05 L211.32 264.05 L211.68 264.05 L212.05 264.05 L212.41 264.05 L212.78 264.05 L213.15 264.05 L213.52 264.05 L213.89 264.05 L214.26 264.05 L214.64 264.05 L215.01 264.05 L215.39 264.05 L215.77 264.05 L216.15 264.05 L216.53 264.05 L216.91 264.05 L217.29 264.05 L217.68 264.05 L218.06 264.05 L218.45 264.05 L218.84 264.05 L219.23 264.05 L219.62 264.05 L220.02 264.05 L220.41 264.05 L220.81 264.05 L221.20 264.05 L221.60 264.05 L222.00 264.05 L222.40 264.05 L222.80 264.05 L223.21 264.05 L223.61 264.05 L224.02 264.05 L224.43 264.05 L224.84 264.05 L225.25 264.05 L225.66 264.05 L226.07 264.05 L226.49 264.05 L226.90 264.05 L227.32 264.05 L227.74 264.05 L228.16 264.05 L228.58 264.05 L229.00 264.05 L229.43 264.05 L229.85 264.05 L230.28 264.05 L230.71 264.05 L231.14 264.05 L231.57 264.05 L232.00 264.05 L232.43 264.05 L232.87 264.05 L233.30 264.05 L233.74 264.05 L234.18 264.05 L234.62 264.05 L235.06 264.05 L235.50 264.05 L235.95 264.05 L236.39 264.05 L236.84 264.05 L237.29 264.05 L237.74 264.05 L238.19 264.05 L238.64 264.05 L239.10 264.05 L239.55 264.05 L240.01 264.05 L240.47 264.05 L240.92 264.05 L241.39 264.05 L241.85 264.05 L242.31 264.05 L242.77 264.05 L243.24 264.05 L243.71 264.05 L244.18 264.05 L244.65 264.05 L245.12 264.05 L245.59 264.05 L246.06 264.05 L246.54 264.05 L247.02 264.05 L247.49 264.05 L247.97 264.05 L248.46 264.05 L248.94 264.05 L249.42 264.05 L249.91 264.05 L250.39 264.05 L250.88 264.05 L251.37 264.05 L251.86 264.05 L252.35 264.05 L252.84 264.05 L253.34 264.05 L253.83 264.05 L254.33 264.05 L254.83 264.05 L255.33 264.05 L255.83 264.05 L256.33 264.05 L256.84 264.05 L257.34 264.05 L257.85 264.05 L258.36 264.05 L258.86 264.05 L259.38 264.05 L259.89 264.05 L260.40 264.05 L260.92 264.05 L261.43 264.05 L261.95 264.05 L262.47 264.05 L262.99 264.05 L263.51 264.05 L264.03 264.05 L264.56 264.05 L265.08 264.05 L265.61 264.05 L266.14 264.05 L266.67 264.05 L267.20 264.05 L267.73 264.05 L268.26 264.05 L268.80 264.05 L269.33 264.05 L269.87 264.05 L270.41 264.05 L270.95 264.05"/><path d="M162.75 58.43 L162.75 58.46 L162.75 58.56 L162.76 58.72 L162.76 58.95 L162.77 59.24 L162.77 59.60 L162.78 60.02 L162.79 60.51 L162.80 61.06 L162.82 61.67 L162.83 62.34 L162.85 63.07 L162.86 63.87 L162.88 64.72 L162.90 65.64 L162.92 66.61 L162.95 67.64 L162.97 68.73 L162.99 69.87 L163.02 71.07 L163.05 72.32 L163.08 73.63 L163.11 74.98 L163.14 76.38 L163.17 77.84 L163.21 79.34 L163.24 80.88 L163.28 82.48 L163.32 84.11 L163.36 85.79 L163.40 87.50 L163.44 89.26 L163.49 91.05 L163.53 92.88 L163.58 94.74 L163.63 96.64 L163.68 98.57 L163.73 100.52 L163.78 102.51 L163.83 104.52 L163.89 106.56 L163.94 108.62 L164.00 110.70 L164.06 112.80 L164.12 114.92 L164.18 117.06 L164.24 119.21 L164.31 121.38 L164.37 123.56 L164.44 125.75 L164.51 127.94 L164.58 130.15 L164.65 132.36 L164.72 134.58 L164.80 136.80 L164.87 139.02 L164.95 141.24 L165.02 143.46 L165.10 145.68 L165.18 147.89 L165.27 150.10 L165.35 152.30 L165.43 154.49 L165.52 156.68 L165.61 158.85 L165.70 161.02 L165.79 163.17 L165.88 165.31 L165.97 167.43 L166.06 169.54 L166.16 171.63 L166.26 173.70 L166.35 175.75 L166.45 177.79 L166.55 179.80 L166.66 181.80 L166.76 183.77 L166.86 185.72 L166.97 187.65 L167.08 189.55 L167.19 191.43 L167.30 193.28 L167.41 195.11 L167.52 196.91 L167.64 198.69 L167.75 200.44 L167.87 202.16 L167.99 203.85 L168.11 205.52 L168.23 207.16 L168.35 208.77 L168.47 210.35 L168.60 211.90 L168.73 213.43 L168.85 214.92 L168.98 216.39 L169.11 217.83 L169.24 219.23 L169.38 220.61 L169.51 221.96 L169.65 223.28 L169.79 224.58 L169.92 225.84 L170.06 227.07 L170.21 228.28 L170.35 229.46 L170.49 230.61 L170.64 231.73 L170.78 232.82 L170.93 233.89 L171.08 234.93 L171.23 235.94 L171.39 236.92 L171.54 237.88 L171.69 238.82 L171.85 239.72 L172.01 240.61 L172.17 241.47 L172.33 242.30 L172.49 243.11 L172.65 243.89 L172.82 244.66 L172.98 245.39 L173.15 246.11 L173.32 246.81 L173.49 247.48 L173.66 248.13 L173.83 248.76 L174.00 249.37 L174.18 249.96 L174.36 250.54 L174.53 251.09 L174.71 251.62 L174.89 252.14 L175.07 252.63 L175.26 253.11 L175.44 253.58 L175.63 254.02 L175.82 254.46 L176.00 254.87 L176.19 255.27 L176.39 255.66 L176.58 256.03 L176.77 256.38 L176.97 256.73 L177.16 257.06 L177.36 257.38 L177.56 257.68 L177.76 257.97 L177.97 258.26 L178.17 258.53 L178.37 258.79 L178.58 259.03 L178.79 259.27 L179.00 259.50 L179.21 259.72 L179.42 259.93 L179.63 260.13 L179.85 260.32 L180.06 260.51 L180.28 260.68 L180.50 260.85 L180.72 261.01 L180.94 261.16 L181.16 261.31 L181.38 261.45 L181.61 261.59 L181.84 261.71 L182.06 261.83 L182.29 261.95 L182.52 262.06 L182.76 262.17 L182.99 262.27 L183.22 262.36 L183.46 262.45 L183.70 262.54 L183.94 262.62 L184.18 262.70 L184.42 262.77 L184.66 262.85 L184.90 262.91 L185.15 262.98 L185.40 263.04 L185.65 263.09 L185.89 263.15 L186.15 263.20 L186.40 263.25 L186.65 263.29 L186.91 263.34 L187.16 263.38 L187.42 263.42 L187.68 263.46 L187.94 263.49 L188.20 263.52 L188.46 263.56 L188.73 263.59 L188.99 263.61 L189.26 263.64 L189.53 263.67 L189.80 263.69 L190.07 263.71 L190.34 263.73 L190.62 263.75 L190.89 263.77 L191.17 263.79 L191.45 263.80 L191.73 263.82 L192.01 263.83 L192.29 263.85 L192.57 263.86 L192.86 263.87 L193.14 263.89 L193.43 263.90 L193.72 263.91 L194.01 263.92 L194.30 263.92 L194.59 263.93 L194.89 263.94 L195.18 263.95 L195.48 263.95 L195.78 263.96 L196.08 263.97 L196.38 263.97 L196.68 263.98 L196.99 263.98 L197.29 263.99 L197.60 263.99 L197.90 264.00 L198.21 264.00 L198.52 264.00 L198.84 264.01 L199.15 264.01 L199.46 264.01 L199.78 264.02 L200.10 264.02 L200.41 264.02 L200.73 264.02 L201.06 264.02 L201.38 264.03 L201.70 264.03 L202.03 264.03 L202.35 264.03 L202.68 264.03 L203.01 264.03 L203.34 264.03 L203.67 264.04 L204.01 264.04 L204.34 264.04 L204.68 264.04 L205.02 264.04 L205.35 264.04 L205.69 264.04 L206.04 264.04 L206.38 264.04 L206.72 264.04 L207.07 264.04 L207.42 264.04 L207.76 264.04 L208.11 264.05 L208.46 264.05 L208.82 264.05 L209.17 264.05 L209.53 264.05 L209.88 264.05 L210.24 264.05 L210.60 264.05 L210.96 264.05 L211.32 264.05 L211.68 264.05 L212.05 264.05 L212.41 264.05 L212.78 264.05 L213.15 264.05 L213.52 264.05 L213.89 264.05 L214.26 264.05 L214.64 264.05 L215.01 264.05 L215.39 264.05 L215.77 264.05 L216.15 264.05 L216.53 264.05 L216.91 264.05 L217.29 264.05 L217.68 264.05 L218.06 264.05 L218.45 264.05 L218.84 264.05 L219.23 264.05 L219.62 264.05 L220.02 264.05 L220.41 264.05 L220.81 264.05 L221.20 264.05 L221.60 264.05 L222.00 264.05 L222.40 264.05 L222.80 264.05 L223.21 264.05 L223.61 264.05 L224.02 264.05 L224.43 264.05 L224.84 264.05 L225.25 264.05 L225.66 264.05 L226.07 264.05 L226.49 264.05 L226.90 264.05 L227.32 264.05 L227.74 264.05 L228.16 264.05 L228.58 264.05 L229.00 264.05 L229.43 264.05 L229.85 264.05 L230.28 264.05 L230.71 264.05 L231.14 264.05 L231.57 264.05 L232.00 264.05 L232.43 264.05 L232.87 264.05 L233.30 264.05 L233.74 264.05 L234.18 264.05 L234.62 264.05 L235.06 264.05 L235.50 264.05 L235.95 264.05 L236.39 264.05 L236.84 264.05 L237.29 264.05 L237.74 264.05 L238.19 264.05 L238.64 264.05 L239.10 264.05 L239.55 264.05 L240.01 264.05 L240.47 264.05 L240.92 264.05 L241.39 264.05 L241.85 264.05 L242.31 264.05 L242.77 264.05 L243.24 264.05 L243.71 264.05 L244.18 264.05 L244.65 264.05 L245.12 264.05 L245.59 264.05 L246.06 264.05 L246.54 264.05 L247.02 264.05 L247.49 264.05 L247.97 264.05 L248.46 264.05 L248.94 264.05 L249.42 264.05 L249.91 264.05 L250.39 264.05 L250.88 264.05 L251.37 264.05 L251.86 264.05 L252.35 264.05 L252.84 264.05 L253.34 264.05 L253.83 264.05 L254.33 264.05 L254.83 264.05 L255.33 264.05 L255.83 264.05 L256.33 264.05 L256.84 264.05 L257.34 264.05 L257.85 264.05 L258.36 264.05 L258.86 264.05 L259.38 264.05 L259.89 264.05 L260.40 264.05 L260.92 264.05 L261.43 264.05 L261.95 264.05 L262.47 264.05 L262.99 264.05 L263.51 264.05 L264.03 264.05 L264.56 264.05 L265.08 264.05 L265.61 264.05 L266.14 264.05 L266.67 264.05 L267.20 264.05 L267.73 264.05 L268.26 264.05 L268.80 264.05 L269.33 264.05 L269.87 264.05 L270.41 264.05 L270.95 264.05"/><path d="M162.75 58.43 L162.75 58.46 L162.75 58.54 L162.76 58.67 L162.76 58.85 L162.77 59.09 L162.77 59.38 L162.78 59.72 L162.79 60.11 L162.80 60.56 L162.82 61.05 L162.83 61.60 L162.85 62.20 L162.86 62.84 L162.88 63.54 L162.90 64.28 L162.92 65.08 L162.95 65.92 L162.97 66.80 L162.99 67.74 L163.02 68.72 L163.05 69.74 L163.08 70.81 L163.11 71.93 L163.14 73.08 L163.17 74.28 L163.21 75.52 L163.24 76.79 L163.28 78.11 L163.32 79.47 L163.36 80.86 L163.40 82.29 L163.44 83.75 L163.49 85.25 L163.53 86.78 L163.58 88.34 L163.63 89.94 L163.68 91.56 L163.73 93.21 L163.78 94.89 L163.83 96.60 L163.89 98.33 L163.94 100.09 L164.00 101.87 L164.06 103.67 L164.12 105.49 L164.18 107.33 L164.24 109.19 L164.31 111.06 L164.37 112.96 L164.44 114.86 L164.51 116.79 L164.58 118.72 L164.65 120.67 L164.72 122.62 L164.80 124.59 L164.87 126.56 L164.95 128.54 L165.02 130.52 L165.10 132.51 L165.18 134.51 L165.27 136.50 L165.35 138.50 L165.43 140.50 L165.52 142.50 L165.61 144.49 L165.70 146.48 L165.79 148.47 L165.88 150.46 L165.97 152.44 L166.06 154.41 L166.16 156.38 L166.26 158.34 L166.35 160.29 L166.45 162.22 L166.55 164.15 L166.66 166.07 L166.76 167.98 L166.86 169.87 L166.97 171.75 L167.08 173.61 L167.19 175.46 L167.30 177.29 L167.41 179.11 L167.52 180.91 L167.64 182.70 L167.75 184.46 L167.87 186.21 L167.99 187.94 L168.11 189.65 L168.23 191.34 L168.35 193.01 L168.47 194.66 L168.60 196.29 L168.73 197.89 L168.85 199.48 L168.98 201.04 L169.11 202.58 L169.24 204.10 L169.38 205.60 L169.51 207.07 L169.65 208.52 L169.79 209.95 L169.92 211.36 L170.06 212.74 L170.21 214.10 L170.35 215.43 L170.49 216.74 L170.64 218.03 L170.78 219.29 L170.93 220.53 L171.08 221.75 L171.23 222.94 L171.39 224.11 L171.54 225.26 L171.69 226.38 L171.85 227.48 L172.01 228.56 L172.17 229.62 L172.33 230.65 L172.49 231.66 L172.65 232.64 L172.82 233.61 L172.98 234.55 L173.15 235.47 L173.32 236.37 L173.49 237.25 L173.66 238.10 L173.83 238.94 L174.00 239.75 L174.18 240.55 L174.36 241.32 L174.53 242.08 L174.71 242.81 L174.89 243.53 L175.07 244.22 L175.26 244.90 L175.44 245.56 L175.63 246.20 L175.82 246.82 L176.00 247.43 L176.19 248.02 L176.39 248.59 L176.58 249.15 L176.77 249.68 L176.97 250.21 L177.16 250.71 L177.36 251.21 L177.56 251.68 L177.76 252.15 L177.97 252.59 L178.17 253.03 L178.37 253.45 L178.58 253.86 L178.79 254.25 L179.00 254.63 L179.21 255.00 L179.42 255.36 L179.63 255.70 L179.85 256.03 L180.06 256.35 L180.28 256.67 L180.50 256.97 L180.72 257.25 L180.94 257.53 L181.16 257.80 L181.38 258.06 L181.61 258.31 L181.84 258.55 L182.06 258.79 L182.29 259.01 L182.52 259.23 L182.76 259.43 L182.99 259.63 L183.22 259.83 L183.46 260.01 L183.70 260.19 L183.94 260.36 L184.18 260.53 L184.42 260.68 L184.66 260.83 L184.90 260.98 L185.15 261.12 L185.40 261.25 L185.65 261.38 L185.89 261.51 L186.15 261.62 L186.40 261.74 L186.65 261.85 L186.91 261.95 L187.16 262.05 L187.42 262.15 L187.68 262.24 L187.94 262.32 L188.20 262.41 L188.46 262.49 L188.73 262.56 L188.99 262.64 L189.26 262.71 L189.53 262.77 L189.80 262.84 L190.07 262.90 L190.34 262.96 L190.62 263.01 L190.89 263.06 L191.17 263.12 L191.45 263.16 L191.73 263.21 L192.01 263.25 L192.29 263.29 L192.57 263.33 L192.86 263.37 L193.14 263.41 L193.43 263.44 L193.72 263.47 L194.01 263.50 L194.30 263.53 L194.59 263.56 L194.89 263.59 L195.18 263.61 L195.48 263.64 L195.78 263.66 L196.08 263.68 L196.38 263.70 L196.68 263.72 L196.99 263.74 L197.29 263.76 L197.60 263.77 L197.90 263.79 L198.21 263.80 L198.52 263.82 L198.84 263.83 L199.15 263.84 L199.46 263.86 L199.78 263.87 L200.10 263.88 L200.41 263.89 L200.73 263.90 L201.06 263.91 L201.38 263.92 L201.70 263.92 L202.03 263.93 L202.35 263.94 L202.68 263.94 L203.01 263.95 L203.34 263.96 L203.67 263.96 L204.01 263.97 L204.34 263.97 L204.68 263.98 L205.02 263.98 L205.35 263.99 L205.69 263.99 L206.04 263.99 L206.38 264.00 L206.72 264.00 L207.07 264.00 L207.42 264.01 L207.76 264.01 L208.11 264.01 L208.46 264.01 L208.82 264.02 L209.17 264.02 L209.53 264.02 L209.88 264.02 L210.24 264.02 L210.60 264.03 L210.96 264.03 L211.32 264.03 L211.68 264.03 L212.05 264.03 L212.41 264.03 L212.78 264.03 L213.15 264.04 L213.52 264.04 L213.89 264.04 L214.26 264.04 L214.64 264.04 L215.01 264.04 L215.39 264.04 L215.77 264.04 L216.15 264.04 L216.53 264.04 L216.91 264.04 L217.29 264.04 L217.68 264.04 L218.06 264.04 L218.45 264.04 L218.84 264.05 L219.23 264.05 L219.62 264.05 L220.02 264.05 L220.41 264.05 L220.81 264.05 L221.20 264.05 L221.60 264.05 L222.00 264.05 L222.40 264.05 L222.80 264.05 L223.21 264.05 L223.61 264.05 L224.02 264.05 L224.43 264.05 L224.84 264.05 L225.25 264.05 L225.66 264.05 L226.07 264.05 L226.49 264.05 L226.90 264.05 L227.32 264.05 L227.74 264.05 L228.16 264.05 L228.58 264.05 L229.00 264.05 L229.43 264.05 L229.85 264.05 L230.28 264.05 L230.71 264.05 L231.14 264.05 L231.57 264.05 L232.00 264.05 L232.43 264.05 L232.87 264.05 L233.30 264.05 L233.74 264.05 L234.18 264.05 L234.62 264.05 L235.06 264.05 L235.50 264.05 L235.95 264.05 L236.39 264.05 L236.84 264.05 L237.29 264.05 L237.74 264.05 L238.19 264.05 L238.64 264.05 L239.10 264.05 L239.55 264.05 L240.01 264.05 L240.47 264.05 L240.92 264.05 L241.39 264.05 L241.85 264.05 L242.31 264.05 L242.77 264.05 L243.24 264.05 L243.71 264.05 L244.18 264.05 L244.65 264.05 L245.12 264.05 L245.59 264.05 L246.06 264.05 L246.54 264.05 L247.02 264.05 L247.49 264.05 L247.97 264.05 L248.46 264.05 L248.94 264.05 L249.42 264.05 L249.91 264.05 L250.39 264.05 L250.88 264.05 L251.37 264.05 L251.86 264.05 L252.35 264.05 L252.84 264.05 L253.34 264.05 L253.83 264.05 L254.33 264.05 L254.83 264.05 L255.33 264.05 L255.83 264.05 L256.33 264.05 L256.84 264.05 L257.34 264.05 L257.85 264.05 L258.36 264.05 L258.86 264.05 L259.38 264.05 L259.89 264.05 L260.40 264.05 L260.92 264.05 L261.43 264.05 L261.95 264.05 L262.47 264.05 L262.99 264.05 L263.51 264.05 L264.03 264.05 L264.56 264.05 L265.08 264.05 L265.61 264.05 L266.14 264.05 L266.67 264.05 L267.20 264.05 L267.73 264.05 L268.26 264.05 L268.80 264.05 L269.33 264.05 L269.87 264.05 L270.41 264.05 L270.95 264.05"/><path d="M162.75 58.43 L162.75 58.45 L162.75 58.52 L162.76 58.63 L162.76 58.78 L162.77 58.98 L162.77 59.23 L162.78 59.51 L162.79 59.84 L162.80 60.22 L162.82 60.63 L162.83 61.09 L162.85 61.60 L162.86 62.14 L162.88 62.73 L162.90 63.36 L162.92 64.02 L162.95 64.73 L162.97 65.49 L162.99 66.28 L163.02 67.10 L163.05 67.97 L163.08 68.88 L163.11 69.82 L163.14 70.80 L163.17 71.82 L163.21 72.88 L163.24 73.96 L163.28 75.09 L163.32 76.24 L163.36 77.44 L163.40 78.66 L163.44 79.91 L163.49 81.20 L163.53 82.51 L163.58 83.86 L163.63 85.23 L163.68 86.63 L163.73 88.06 L163.78 89.51 L163.83 90.99 L163.89 92.50 L163.94 94.03 L164.00 95.58 L164.06 97.15 L164.12 98.74 L164.18 100.35 L164.24 101.99 L164.31 103.64 L164.37 105.30 L164.44 106.99 L164.51 108.69 L164.58 110.40 L164.65 112.13 L164.72 113.87 L164.80 115.63 L164.87 117.39 L164.95 119.17 L165.02 120.95 L165.10 122.74 L165.18 124.55 L165.27 126.35 L165.35 128.17 L165.43 129.98 L165.52 131.81 L165.61 133.63 L165.70 135.46 L165.79 137.29 L165.88 139.12 L165.97 140.95 L166.06 142.78 L166.16 144.61 L166.26 146.44 L166.35 148.26 L166.45 150.08 L166.55 151.89 L166.66 153.70 L166.76 155.51 L166.86 157.31 L166.97 159.10 L167.08 160.88 L167.19 162.65 L167.30 164.42 L167.41 166.18 L167.52 167.92 L167.64 169.66 L167.75 171.38 L167.87 173.09 L167.99 174.79 L168.11 176.48 L168.23 178.15 L168.35 179.81 L168.47 181.45 L168.60 183.08 L168.73 184.70 L168.85 186.30 L168.98 187.88 L169.11 189.45 L169.24 191.00 L169.38 192.54 L169.51 194.05 L169.65 195.55 L169.79 197.04 L169.92 198.50 L170.06 199.95 L170.21 201.37 L170.35 202.78 L170.49 204.17 L170.64 205.54 L170.78 206.90 L170.93 208.23 L171.08 209.54 L171.23 210.84 L171.39 212.11 L171.54 213.37 L171.69 214.60 L171.85 215.82 L172.01 217.01 L172.17 218.19 L172.33 219.35 L172.49 220.48 L172.65 221.60 L172.82 222.70 L172.98 223.77 L173.15 224.83 L173.32 225.87 L173.49 226.89 L173.66 227.89 L173.83 228.87 L174.00 229.83 L174.18 230.77 L174.36 231.69 L174.53 232.60 L174.71 233.48 L174.89 234.35 L175.07 235.20 L175.26 236.03 L175.44 236.84 L175.63 237.64 L175.82 238.41 L176.00 239.17 L176.19 239.91 L176.39 240.64 L176.58 241.35 L176.77 242.04 L176.97 242.71 L177.16 243.37 L177.36 244.02 L177.56 244.64 L177.76 245.25 L177.97 245.85 L178.17 246.43 L178.37 247.00 L178.58 247.55 L178.79 248.08 L179.00 248.61 L179.21 249.12 L179.42 249.61 L179.63 250.09 L179.85 250.56 L180.06 251.02 L180.28 251.46 L180.50 251.89 L180.72 252.31 L180.94 252.72 L181.16 253.11 L181.38 253.49 L181.61 253.87 L181.84 254.23 L182.06 254.58 L182.29 254.92 L182.52 255.25 L182.76 255.57 L182.99 255.88 L183.22 256.18 L183.46 256.47 L183.70 256.75 L183.94 257.02 L184.18 257.28 L184.42 257.54 L184.66 257.79 L184.90 258.03 L185.15 258.26 L185.40 258.48 L185.65 258.70 L185.89 258.91 L186.15 259.11 L186.40 259.30 L186.65 259.49 L186.91 259.67 L187.16 259.85 L187.42 260.02 L187.68 260.18 L187.94 260.34 L188.20 260.49 L188.46 260.63 L188.73 260.77 L188.99 260.91 L189.26 261.04 L189.53 261.17 L189.80 261.29 L190.07 261.41 L190.34 261.52 L190.62 261.63 L190.89 261.73 L191.17 261.83 L191.45 261.93 L191.73 262.02 L192.01 262.11 L192.29 262.19 L192.57 262.27 L192.86 262.35 L193.14 262.43 L193.43 262.50 L193.72 262.57 L194.01 262.64 L194.30 262.70 L194.59 262.76 L194.89 262.82 L195.18 262.88 L195.48 262.93 L195.78 262.98 L196.08 263.03 L196.38 263.08 L196.68 263.13 L196.99 263.17 L197.29 263.21 L197.60 263.25 L197.90 263.29 L198.21 263.33 L198.52 263.36 L198.84 263.40 L199.15 263.43 L199.46 263.46 L199.78 263.49 L200.10 263.51 L200.41 263.54 L200.73 263.57 L201.06 263.59 L201.38 263.61 L201.70 263.64 L202.03 263.66 L202.35 263.68 L202.68 263.70 L203.01 263.71 L203.34 263.73 L203.67 263.75 L204.01 263.76 L204.34 263.78 L204.68 263.79 L205.02 263.81 L205.35 263.82 L205.69 263.83 L206.04 263.84 L206.38 263.85 L206.72 263.86 L207.07 263.87 L207.42 263.88 L207.76 263.89 L208.11 263.90 L208.46 263.91 L208.82 263.92 L209.17 263.92 L209.53 263.93 L209.88 263.94 L210.24 263.94 L210.60 263.95 L210.96 263.96 L211.32 263.96 L211.68 263.97 L212.05 263.97 L212.41 263.97 L212.78 263.98 L213.15 263.98 L213.52 263.99 L213.89 263.99 L214.26 263.99 L214.64 264.00 L215.01 264.00 L215.39 264.00 L215.77 264.01 L216.15 264.01 L216.53 264.01 L216.91 264.01 L217.29 264.02 L217.68 264.02 L218.06 264.02 L218.45 264.02 L218.84 264.02 L219.23 264.02 L219.62 264.03 L220.02 264.03 L220.41 264.03 L220.81 264.03 L221.20 264.03 L221.60 264.03 L222.00 264.03 L222.40 264.03 L222.80 264.04 L223.21 264.04 L223.61 264.04 L224.02 264.04 L224.43 264.04 L224.84 264.04 L225.25 264.04 L225.66 264.04 L226.07 264.04 L226.49 264.04 L226.90 264.04 L227.32 264.04 L227.74 264.04 L228.16 264.04 L228.58 264.04 L229.00 264.04 L229.43 264.05 L229.85 264.05 L230.28 264.05 L230.71 264.05 L231.14 264.05 L231.57 264.05 L232.00 264.05 L232.43 264.05 L232.87 264.05 L233.30 264.05 L233.74 264.05 L234.18 264.05 L234.62 264.05 L235.06 264.05 L235.50 264.05 L235.95 264.05 L236.39 264.05 L236.84 264.05 L237.29 264.05 L237.74 264.05 L238.19 264.05 L238.64 264.05 L239.10 264.05 L239.55 264.05 L240.01 264.05 L240.47 264.05 L240.92 264.05 L241.39 264.05 L241.85 264.05 L242.31 264.05 L242.77 264.05 L243.24 264.05 L243.71 264.05 L244.18 264.05 L244.65 264.05 L245.12 264.05 L245.59 264.05 L246.06 264.05 L246.54 264.05 L247.02 264.05 L247.49 264.05 L247.97 264.05 L248.46 264.05 L248.94 264.05 L249.42 264.05 L249.91 264.05 L250.39 264.05 L250.88 264.05 L251.37 264.05 L251.86 264.05 L252.35 264.05 L252.84 264.05 L253.34 264.05 L253.83 264.05 L254.33 264.05 L254.83 264.05 L255.33 264.05 L255.83 264.05 L256.33 264.05 L256.84 264.05 L257.34 264.05 L257.85 264.05 L258.36 264.05 L258.86 264.05 L259.38 264.05 L259.89 264.05 L260.40 264.05 L260.92 264.05 L261.43 264.05 L261.95 264.05 L262.47 264.05 L262.99 264.05 L263.51 264.05 L264.03 264.05 L264.56 264.05 L265.08 264.05 L265.61 264.05 L266.14 264.05 L266.67 264.05 L267.20 264.05 L267.73 264.05 L268.26 264.05 L268.80 264.05 L269.33 264.05 L269.87 264.05 L270.41 264.05 L270.95 264.05"/><path d="M162.75 58.43 L162.75 58.45 L162.75 58.51 L162.76 58.60 L162.76 58.74 L162.77 58.91 L162.77 59.12 L162.78 59.36 L162.79 59.65 L162.80 59.97 L162.82 60.33 L162.83 60.73 L162.85 61.16 L162.86 61.63 L162.88 62.14 L162.90 62.68 L162.92 63.26 L162.95 63.88 L162.97 64.52 L162.99 65.21 L163.02 65.93 L163.05 66.68 L163.08 67.47 L163.11 68.29 L163.14 69.14 L163.17 70.02 L163.21 70.94 L163.24 71.89 L163.28 72.87 L163.32 73.88 L163.36 74.92 L163.40 75.99 L163.44 77.08 L163.49 78.21 L163.53 79.36 L163.58 80.54 L163.63 81.75 L163.68 82.98 L163.73 84.23 L163.78 85.52 L163.83 86.82 L163.89 88.15 L163.94 89.50 L164.00 90.87 L164.06 92.27 L164.12 93.68 L164.18 95.11 L164.24 96.57 L164.31 98.04 L164.37 99.53 L164.44 101.03 L164.51 102.55 L164.58 104.09 L164.65 105.64 L164.72 107.21 L164.80 108.79 L164.87 110.38 L164.95 111.99 L165.02 113.60 L165.10 115.23 L165.18 116.86 L165.27 118.51 L165.35 120.16 L165.43 121.82 L165.52 123.49 L165.61 125.16 L165.70 126.84 L165.79 128.53 L165.88 130.21 L165.97 131.91 L166.06 133.60 L166.16 135.30 L166.26 137.00 L166.35 138.70 L166.45 140.40 L166.55 142.10 L166.66 143.79 L166.76 145.49 L166.86 147.18 L166.97 148.88 L167.08 150.56 L167.19 152.25 L167.30 153.93 L167.41 155.60 L167.52 157.27 L167.64 158.93 L167.75 160.59 L167.87 162.24 L167.99 163.88 L168.11 165.51 L168.23 167.14 L168.35 168.75 L168.47 170.36 L168.60 171.96 L168.73 173.54 L168.85 175.12 L168.98 176.68 L169.11 178.23 L169.24 179.77 L169.38 181.30 L169.51 182.81 L169.65 184.32 L169.79 185.81 L169.92 187.28 L170.06 188.74 L170.21 190.19 L170.35 191.62 L170.49 193.04 L170.64 194.45 L170.78 195.83 L170.93 197.21 L171.08 198.57 L171.23 199.91 L171.39 201.23 L171.54 202.54 L171.69 203.84 L171.85 205.12 L172.01 206.38 L172.17 207.62 L172.33 208.85 L172.49 210.06 L172.65 211.26 L172.82 212.44 L172.98 213.60 L173.15 214.74 L173.32 215.87 L173.49 216.98 L173.66 218.07 L173.83 219.15 L174.00 220.21 L174.18 221.25 L174.36 222.27 L174.53 223.28 L174.71 224.27 L174.89 225.25 L175.07 226.20 L175.26 227.14 L175.44 228.07 L175.63 228.98 L175.82 229.87 L176.00 230.74 L176.19 231.60 L176.39 232.44 L176.58 233.27 L176.77 234.08 L176.97 234.87 L177.16 235.65 L177.36 236.41 L177.56 237.16 L177.76 237.89 L177.97 238.61 L178.17 239.31 L178.37 239.99 L178.58 240.67 L178.79 241.32 L179.00 241.97 L179.21 242.59 L179.42 243.21 L179.63 243.81 L179.85 244.40 L180.06 244.97 L180.28 245.53 L180.50 246.08 L180.72 246.61 L180.94 247.13 L181.16 247.64 L181.38 248.14 L181.61 248.62 L181.84 249.10 L182.06 249.56 L182.29 250.01 L182.52 250.44 L182.76 250.87 L182.99 251.29 L183.22 251.69 L183.46 252.09 L183.70 252.47 L183.94 252.84 L184.18 253.21 L184.42 253.56 L184.66 253.90 L184.90 254.24 L185.15 254.56 L185.40 254.88 L185.65 255.19 L185.89 255.49 L186.15 255.78 L186.40 256.06 L186.65 256.33 L186.91 256.60 L187.16 256.85 L187.42 257.10 L187.68 257.35 L187.94 257.58 L188.20 257.81 L188.46 258.03 L188.73 258.25 L188.99 258.45 L189.26 258.66 L189.53 258.85 L189.80 259.04 L190.07 259.22 L190.34 259.40 L190.62 259.57 L190.89 259.74 L191.17 259.90 L191.45 260.05 L191.73 260.21 L192.01 260.35 L192.29 260.49 L192.57 260.63 L192.86 260.76 L193.14 260.88 L193.43 261.01 L193.72 261.13 L194.01 261.24 L194.30 261.35 L194.59 261.46 L194.89 261.56 L195.18 261.66 L195.48 261.75 L195.78 261.85 L196.08 261.93 L196.38 262.02 L196.68 262.10 L196.99 262.18 L197.29 262.26 L197.60 262.33 L197.90 262.40 L198.21 262.47 L198.52 262.54 L198.84 262.60 L199.15 262.66 L199.46 262.72 L199.78 262.78 L200.10 262.83 L200.41 262.88 L200.73 262.93 L201.06 262.98 L201.38 263.03 L201.70 263.07 L202.03 263.12 L202.35 263.16 L202.68 263.20 L203.01 263.23 L203.34 263.27 L203.67 263.30 L204.01 263.34 L204.34 263.37 L204.68 263.40 L205.02 263.43 L205.35 263.46 L205.69 263.49 L206.04 263.51 L206.38 263.54 L206.72 263.56 L207.07 263.58 L207.42 263.60 L207.76 263.62 L208.11 263.64 L208.46 263.66 L208.82 263.68 L209.17 263.70 L209.53 263.72 L209.88 263.73 L210.24 263.75 L210.60 263.76 L210.96 263.78 L211.32 263.79 L211.68 263.80 L212.05 263.81 L212.41 263.83 L212.78 263.84 L213.15 263.85 L213.52 263.86 L213.89 263.87 L214.26 263.88 L214.64 263.88 L215.01 263.89 L215.39 263.90 L215.77 263.91 L216.15 263.92 L216.53 263.92 L216.91 263.93 L217.29 263.94 L217.68 263.94 L218.06 263.95 L218.45 263.95 L218.84 263.96 L219.23 263.96 L219.62 263.97 L220.02 263.97 L220.41 263.98 L220.81 263.98 L221.20 263.98 L221.60 263.99 L222.00 263.99 L222.40 263.99 L222.80 264.00 L223.21 264.00 L223.61 264.00 L224.02 264.00 L224.43 264.01 L224.84 264.01 L225.25 264.01 L225.66 264.01 L226.07 264.02 L226.49 264.02 L226.90 264.02 L227.32 264.02 L227.74 264.02 L228.16 264.02 L228.58 264.03 L229.00 264.03 L229.43 264.03 L229.85 264.03 L230.28 264.03 L230.71 264.03 L231.14 264.03 L231.57 264.03 L232.00 264.03 L232.43 264.04 L232.87 264.04 L233.30 264.04 L233.74 264.04 L234.18 264.04 L234.62 264.04 L235.06 264.04 L235.50 264.04 L235.95 264.04 L236.39 264.04 L236.84 264.04 L237.29 264.04 L237.74 264.04 L238.19 264.04 L238.64 264.04 L239.10 264.04 L239.55 264.04 L240.01 264.04 L240.47 264.05 L240.92 264.05 L241.39 264.05 L241.85 264.05 L242.31 264.05 L242.77 264.05 L243.24 264.05 L243.71 264.05 L244.18 264.05 L244.65 264.05 L245.12 264.05 L245.59 264.05 L246.06 264.05 L246.54 264.05 L247.02 264.05 L247.49 264.05 L247.97 264.05 L248.46 264.05 L248.94 264.05 L249.42 264.05 L249.91 264.05 L250.39 264.05 L250.88 264.05 L251.37 264.05 L251.86 264.05 L252.35 264.05 L252.84 264.05 L253.34 264.05 L253.83 264.05 L254.33 264.05 L254.83 264.05 L255.33 264.05 L255.83 264.05 L256.33 264.05 L256.84 264.05 L257.34 264.05 L257.85 264.05 L258.36 264.05 L258.86 264.05 L259.38 264.05 L259.89 264.05 L260.40 264.05 L260.92 264.05 L261.43 264.05 L261.95 264.05 L262.47 264.05 L262.99 264.05 L263.51 264.05 L264.03 264.05 L264.56 264.05 L265.08 264.05 L265.61 264.05 L266.14 264.05 L266.67 264.05 L267.20 264.05 L267.73 264.05 L268.26 264.05 L268.80 264.05 L269.33 264.05 L269.87 264.05 L270.41 264.05 L270.95 264.05"/><path d="M162.75 58.43 L162.75 58.45 L162.75 58.50 L162.76 58.58 L162.76 58.70 L162.77 58.85 L162.77 59.03 L162.78 59.25 L162.79 59.50 L162.80 59.78 L162.82 60.10 L162.83 60.45 L162.85 60.83 L162.86 61.25 L162.88 61.69 L162.90 62.17 L162.92 62.68 L162.95 63.22 L162.97 63.79 L162.99 64.40 L163.02 65.03 L163.05 65.70 L163.08 66.39 L163.11 67.12 L163.14 67.87 L163.17 68.65 L163.21 69.46 L163.24 70.30 L163.28 71.17 L163.32 72.07 L163.36 72.99 L163.40 73.94 L163.44 74.91 L163.49 75.91 L163.53 76.94 L163.58 77.99 L163.63 79.06 L163.68 80.16 L163.73 81.28 L163.78 82.43 L163.83 83.59 L163.89 84.78 L163.94 85.99 L164.00 87.22 L164.06 88.47 L164.12 89.75 L164.18 91.03 L164.24 92.34 L164.31 93.67 L164.37 95.01 L164.44 96.37 L164.51 97.75 L164.58 99.14 L164.65 100.55 L164.72 101.97 L164.80 103.40 L164.87 104.85 L164.95 106.31 L165.02 107.79 L165.10 109.27 L165.18 110.77 L165.27 112.27 L165.35 113.79 L165.43 115.31 L165.52 116.85 L165.61 118.39 L165.70 119.93 L165.79 121.49 L165.88 123.05 L165.97 124.62 L166.06 126.19 L166.16 127.77 L166.26 129.35 L166.35 130.93 L166.45 132.52 L166.55 134.11 L166.66 135.70 L166.76 137.29 L166.86 138.89 L166.97 140.48 L167.08 142.07 L167.19 143.66 L167.30 145.25 L167.41 146.84 L167.52 148.43 L167.64 150.01 L167.75 151.59 L167.87 153.17 L167.99 154.74 L168.11 156.31 L168.23 157.87 L168.35 159.43 L168.47 160.98 L168.60 162.52 L168.73 164.06 L168.85 165.59 L168.98 167.11 L169.11 168.63 L169.24 170.13 L169.38 171.63 L169.51 173.12 L169.65 174.60 L169.79 176.07 L169.92 177.53 L170.06 178.98 L170.21 180.41 L170.35 181.84 L170.49 183.26 L170.64 184.66 L170.78 186.06 L170.93 187.44 L171.08 188.81 L171.23 190.16 L171.39 191.51 L171.54 192.84 L171.69 194.16 L171.85 195.46 L172.01 196.75 L172.17 198.03 L172.33 199.30 L172.49 200.55 L172.65 201.78 L172.82 203.01 L172.98 204.21 L173.15 205.41 L173.32 206.59 L173.49 207.75 L173.66 208.90 L173.83 210.04 L174.00 211.16 L174.18 212.26 L174.36 213.36 L174.53 214.43 L174.71 215.49 L174.89 216.54 L175.07 217.57 L175.26 218.59 L175.44 219.59 L175.63 220.58 L175.82 221.55 L176.00 222.50 L176.19 223.45 L176.39 224.37 L176.58 225.28 L176.77 226.18 L176.97 227.06 L177.16 227.93 L177.36 228.78 L177.56 229.62 L177.76 230.45 L177.97 231.26 L178.17 232.05 L178.37 232.83 L178.58 233.60 L178.79 234.36 L179.00 235.09 L179.21 235.82 L179.42 236.53 L179.63 237.23 L179.85 237.91 L180.06 238.59 L180.28 239.24 L180.50 239.89 L180.72 240.52 L180.94 241.14 L181.16 241.75 L181.38 242.34 L181.61 242.92 L181.84 243.49 L182.06 244.05 L182.29 244.60 L182.52 245.13 L182.76 245.65 L182.99 246.16 L183.22 246.66 L183.46 247.15 L183.70 247.63 L183.94 248.09 L184.18 248.55 L184.42 248.99 L184.66 249.43 L184.90 249.85 L185.15 250.27 L185.40 250.67 L185.65 251.07 L185.89 251.45 L186.15 251.83 L186.40 252.19 L186.65 252.55 L186.91 252.90 L187.16 253.24 L187.42 253.57 L187.68 253.89 L187.94 254.21 L188.20 254.51 L188.46 254.81 L188.73 255.10 L188.99 255.38 L189.26 255.66 L189.53 255.93 L189.80 256.19 L190.07 256.44 L190.34 256.69 L190.62 256.92 L190.89 257.16 L191.17 257.38 L191.45 257.60 L191.73 257.82 L192.01 258.02 L192.29 258.23 L192.57 258.42 L192.86 258.61 L193.14 258.80 L193.43 258.98 L193.72 259.15 L194.01 259.32 L194.30 259.48 L194.59 259.64 L194.89 259.79 L195.18 259.94 L195.48 260.09 L195.78 260.23 L196.08 260.36 L196.38 260.49 L196.68 260.62 L196.99 260.75 L197.29 260.86 L197.60 260.98 L197.90 261.09 L198.21 261.20 L198.52 261.31 L198.84 261.41 L199.15 261.50 L199.46 261.60 L199.78 261.69 L200.10 261.78 L200.41 261.86 L200.73 261.95 L201.06 262.03 L201.38 262.10 L201.70 262.18 L202.03 262.25 L202.35 262.32 L202.68 262.39 L203.01 262.45 L203.34 262.52 L203.67 262.58 L204.01 262.63 L204.34 262.69 L204.68 262.74 L205.02 262.80 L205.35 262.85 L205.69 262.89 L206.04 262.94 L206.38 262.99 L206.72 263.03 L207.07 263.07 L207.42 263.11 L207.76 263.15 L208.11 263.19 L208.46 263.22 L208.82 263.26 L209.17 263.29 L209.53 263.32 L209.88 263.35 L210.24 263.38 L210.60 263.41 L210.96 263.44 L211.32 263.46 L211.68 263.49 L212.05 263.51 L212.41 263.54 L212.78 263.56 L213.15 263.58 L213.52 263.60 L213.89 263.62 L214.26 263.64 L214.64 263.66 L215.01 263.67 L215.39 263.69 L215.77 263.71 L216.15 263.72 L216.53 263.74 L216.91 263.75 L217.29 263.76 L217.68 263.78 L218.06 263.79 L218.45 263.80 L218.84 263.81 L219.23 263.82 L219.62 263.83 L220.02 263.84 L220.41 263.85 L220.81 263.86 L221.20 263.87 L221.60 263.88 L222.00 263.89 L222.40 263.90 L222.80 263.90 L223.21 263.91 L223.61 263.92 L224.02 263.92 L224.43 263.93 L224.84 263.94 L225.25 263.94 L225.66 263.95 L226.07 263.95 L226.49 263.96 L226.90 263.96 L227.32 263.96 L227.74 263.97 L228.16 263.97 L228.58 263.98 L229.00 263.98 L229.43 263.98 L229.85 263.99 L230.28 263.99 L230.71 263.99 L231.14 264.00 L231.57 264.00 L232.00 264.00 L232.43 264.00 L232.87 264.01 L233.30 264.01 L233.74 264.01 L234.18 264.01 L234.62 264.01 L235.06 264.02 L235.50 264.02 L235.95 264.02 L236.39 264.02 L236.84 264.02 L237.29 264.02 L237.74 264.03 L238.19 264.03 L238.64 264.03 L239.10 264.03 L239.55 264.03 L240.01 264.03 L240.47 264.03 L240.92 264.03 L241.39 264.03 L241.85 264.04 L242.31 264.04 L242.77 264.04 L243.24 264.04 L243.71 264.04 L244.18 264.04 L244.65 264.04 L245.12 264.04 L245.59 264.04 L246.06 264.04 L246.54 264.04 L247.02 264.04 L247.49 264.04 L247.97 264.04 L248.46 264.04 L248.94 264.04 L249.42 264.04 L249.91 264.04 L250.39 264.04 L250.88 264.05 L251.37 264.05 L251.86 264.05 L252.35 264.05 L252.84 264.05 L253.34 264.05 L253.83 264.05 L254.33 264.05 L254.83 264.05 L255.33 264.05 L255.83 264.05 L256.33 264.05 L256.84 264.05 L257.34 264.05 L257.85 264.05 L258.36 264.05 L258.86 264.05 L259.38 264.05 L259.89 264.05 L260.40 264.05 L260.92 264.05 L261.43 264.05 L261.95 264.05 L262.47 264.05 L262.99 264.05 L263.51 264.05 L264.03 264.05 L264.56 264.05 L265.08 264.05 L265.61 264.05 L266.14 264.05 L266.67 264.05 L267.20 264.05 L267.73 264.05 L268.26 264.05 L268.80 264.05 L269.33 264.05 L269.87 264.05 L270.41 264.05 L270.95 264.05"/><path d="M162.75 58.43 L162.75 58.44 L162.75 58.49 L162.76 58.56 L162.76 58.67 L162.77 58.80 L162.77 58.97 L162.78 59.16 L162.79 59.39 L162.80 59.64 L162.82 59.92 L162.83 60.23 L162.85 60.57 L162.86 60.94 L162.88 61.34 L162.90 61.77 L162.92 62.22 L162.95 62.71 L162.97 63.22 L162.99 63.76 L163.02 64.33 L163.05 64.92 L163.08 65.54 L163.11 66.19 L163.14 66.87 L163.17 67.57 L163.21 68.30 L163.24 69.05 L163.28 69.83 L163.32 70.63 L163.36 71.46 L163.40 72.32 L163.44 73.19 L163.49 74.09 L163.53 75.02 L163.58 75.96 L163.63 76.93 L163.68 77.92 L163.73 78.94 L163.78 79.97 L163.83 81.03 L163.89 82.10 L163.94 83.20 L164.00 84.31 L164.06 85.45 L164.12 86.60 L164.18 87.77 L164.24 88.96 L164.31 90.17 L164.37 91.39 L164.44 92.63 L164.51 93.88 L164.58 95.15 L164.65 96.44 L164.72 97.74 L164.80 99.05 L164.87 100.38 L164.95 101.72 L165.02 103.07 L165.10 104.44 L165.18 105.81 L165.27 107.20 L165.35 108.60 L165.43 110.00 L165.52 111.42 L165.61 112.85 L165.70 114.28 L165.79 115.72 L165.88 117.17 L165.97 118.63 L166.06 120.09 L166.16 121.56 L166.26 123.04 L166.35 124.52 L166.45 126.00 L166.55 127.49 L166.66 128.98 L166.76 130.48 L166.86 131.98 L166.97 133.48 L167.08 134.98 L167.19 136.48 L167.30 137.98 L167.41 139.49 L167.52 140.99 L167.64 142.50 L167.75 144.00 L167.87 145.50 L167.99 147.00 L168.11 148.50 L168.23 149.99 L168.35 151.49 L168.47 152.98 L168.60 154.46 L168.73 155.94 L168.85 157.42 L168.98 158.89 L169.11 160.36 L169.24 161.82 L169.38 163.27 L169.51 164.72 L169.65 166.16 L169.79 167.60 L169.92 169.03 L170.06 170.45 L170.21 171.86 L170.35 173.26 L170.49 174.66 L170.64 176.05 L170.78 177.43 L170.93 178.80 L171.08 180.16 L171.23 181.51 L171.39 182.85 L171.54 184.18 L171.69 185.50 L171.85 186.80 L172.01 188.10 L172.17 189.39 L172.33 190.67 L172.49 191.93 L172.65 193.19 L172.82 194.43 L172.98 195.66 L173.15 196.88 L173.32 198.08 L173.49 199.28 L173.66 200.46 L173.83 201.63 L174.00 202.78 L174.18 203.93 L174.36 205.06 L174.53 206.18 L174.71 207.28 L174.89 208.37 L175.07 209.45 L175.26 210.52 L175.44 211.57 L175.63 212.61 L175.82 213.64 L176.00 214.65 L176.19 215.65 L176.39 216.64 L176.58 217.61 L176.77 218.57 L176.97 219.52 L177.16 220.45 L177.36 221.37 L177.56 222.27 L177.76 223.17 L177.97 224.05 L178.17 224.91 L178.37 225.77 L178.58 226.61 L178.79 227.43 L179.00 228.25 L179.21 229.05 L179.42 229.84 L179.63 230.61 L179.85 231.38 L180.06 232.12 L180.28 232.86 L180.50 233.59 L180.72 234.30 L180.94 235.00 L181.16 235.68 L181.38 236.36 L181.61 237.02 L181.84 237.67 L182.06 238.31 L182.29 238.94 L182.52 239.55 L182.76 240.16 L182.99 240.75 L183.22 241.33 L183.46 241.90 L183.70 242.46 L183.94 243.01 L184.18 243.54 L184.42 244.07 L184.66 244.58 L184.90 245.09 L185.15 245.58 L185.40 246.07 L185.65 246.54 L185.89 247.01 L186.15 247.46 L186.40 247.90 L186.65 248.34 L186.91 248.76 L187.16 249.18 L187.42 249.59 L187.68 249.98 L187.94 250.37 L188.20 250.75 L188.46 251.12 L188.73 251.48 L188.99 251.84 L189.26 252.19 L189.53 252.52 L189.80 252.85 L190.07 253.17 L190.34 253.49 L190.62 253.80 L190.89 254.09 L191.17 254.39 L191.45 254.67 L191.73 254.95 L192.01 255.22 L192.29 255.48 L192.57 255.74 L192.86 255.99 L193.14 256.24 L193.43 256.47 L193.72 256.71 L194.01 256.93 L194.30 257.15 L194.59 257.36 L194.89 257.57 L195.18 257.78 L195.48 257.97 L195.78 258.17 L196.08 258.35 L196.38 258.53 L196.68 258.71 L196.99 258.88 L197.29 259.05 L197.60 259.21 L197.90 259.37 L198.21 259.52 L198.52 259.67 L198.84 259.81 L199.15 259.95 L199.46 260.09 L199.78 260.22 L200.10 260.35 L200.41 260.48 L200.73 260.60 L201.06 260.71 L201.38 260.83 L201.70 260.94 L202.03 261.05 L202.35 261.15 L202.68 261.25 L203.01 261.35 L203.34 261.44 L203.67 261.53 L204.01 261.62 L204.34 261.71 L204.68 261.79 L205.02 261.87 L205.35 261.95 L205.69 262.03 L206.04 262.10 L206.38 262.17 L206.72 262.24 L207.07 262.30 L207.42 262.37 L207.76 262.43 L208.11 262.49 L208.46 262.55 L208.82 262.60 L209.17 262.66 L209.53 262.71 L209.88 262.76 L210.24 262.81 L210.60 262.86 L210.96 262.90 L211.32 262.94 L211.68 262.99 L212.05 263.03 L212.41 263.07 L212.78 263.11 L213.15 263.14 L213.52 263.18 L213.89 263.21 L214.26 263.24 L214.64 263.28 L215.01 263.31 L215.39 263.34 L215.77 263.36 L216.15 263.39 L216.53 263.42 L216.91 263.44 L217.29 263.47 L217.68 263.49 L218.06 263.51 L218.45 263.54 L218.84 263.56 L219.23 263.58 L219.62 263.60 L220.02 263.62 L220.41 263.63 L220.81 263.65 L221.20 263.67 L221.60 263.68 L222.00 263.70 L222.40 263.71 L222.80 263.73 L223.21 263.74 L223.61 263.76 L224.02 263.77 L224.43 263.78 L224.84 263.79 L225.25 263.80 L225.66 263.81 L226.07 263.82 L226.49 263.83 L226.90 263.84 L227.32 263.85 L227.74 263.86 L228.16 263.87 L228.58 263.88 L229.00 263.89 L229.43 263.89 L229.85 263.90 L230.28 263.91 L230.71 263.91 L231.14 263.92 L231.57 263.92 L232.00 263.93 L232.43 263.94 L232.87 263.94 L233.30 263.95 L233.74 263.95 L234.18 263.96 L234.62 263.96 L235.06 263.96 L235.50 263.97 L235.95 263.97 L236.39 263.98 L236.84 263.98 L237.29 263.98 L237.74 263.99 L238.19 263.99 L238.64 263.99 L239.10 263.99 L239.55 264.00 L240.01 264.00 L240.47 264.00 L240.92 264.00 L241.39 264.01 L241.85 264.01 L242.31 264.01 L242.77 264.01 L243.24 264.01 L243.71 264.02 L244.18 264.02 L244.65 264.02 L245.12 264.02 L245.59 264.02 L246.06 264.02 L246.54 264.03 L247.02 264.03 L247.49 264.03 L247.97 264.03 L248.46 264.03 L248.94 264.03 L249.42 264.03 L249.91 264.03 L250.39 264.03 L250.88 264.03 L251.37 264.04 L251.86 264.04 L252.35 264.04 L252.84 264.04 L253.34 264.04 L253.83 264.04 L254.33 264.04 L254.83 264.04 L255.33 264.04 L255.83 264.04 L256.33 264.04 L256.84 264.04 L257.34 264.04 L257.85 264.04 L258.36 264.04 L258.86 264.04 L259.38 264.04 L259.89 264.04 L260.40 264.04 L260.92 264.04 L261.43 264.04 L261.95 264.05 L262.47 264.05 L262.99 264.05 L263.51 264.05 L264.03 264.05 L264.56 264.05 L265.08 264.05 L265.61 264.05 L266.14 264.05 L266.67 264.05 L267.20 264.05 L267.73 264.05 L268.26 264.05 L268.80 264.05 L269.33 264.05 L269.87 264.05 L270.41 264.05 L270.95 264.05"/><path d="M162.75 58.43 L162.75 58.44 L162.75 58.48 L162.76 58.55 L162.76 58.65 L162.77 58.77 L162.77 58.92 L162.78 59.09 L162.79 59.29 L162.80 59.52 L162.82 59.78 L162.83 60.06 L162.85 60.36 L162.86 60.70 L162.88 61.06 L162.90 61.44 L162.92 61.86 L162.95 62.29 L162.97 62.76 L162.99 63.25 L163.02 63.76 L163.05 64.30 L163.08 64.86 L163.11 65.45 L163.14 66.06 L163.17 66.70 L163.21 67.36 L163.24 68.04 L163.28 68.75 L163.32 69.48 L163.36 70.23 L163.40 71.00 L163.44 71.80 L163.49 72.62 L163.53 73.46 L163.58 74.32 L163.63 75.20 L163.68 76.10 L163.73 77.03 L163.78 77.97 L163.83 78.93 L163.89 79.91 L163.94 80.92 L164.00 81.93 L164.06 82.97 L164.12 84.03 L164.18 85.10 L164.24 86.19 L164.31 87.29 L164.37 88.42 L164.44 89.55 L164.51 90.71 L164.58 91.88 L164.65 93.06 L164.72 94.26 L164.80 95.47 L164.87 96.69 L164.95 97.93 L165.02 99.18 L165.10 100.44 L165.18 101.71 L165.27 103.00 L165.35 104.29 L165.43 105.60 L165.52 106.91 L165.61 108.24 L165.70 109.57 L165.79 110.91 L165.88 112.27 L165.97 113.63 L166.06 114.99 L166.16 116.36 L166.26 117.74 L166.35 119.13 L166.45 120.52 L166.55 121.92 L166.66 123.32 L166.76 124.73 L166.86 126.14 L166.97 127.55 L167.08 128.97 L167.19 130.39 L167.30 131.81 L167.41 133.24 L167.52 134.66 L167.64 136.09 L167.75 137.52 L167.87 138.95 L167.99 140.38 L168.11 141.81 L168.23 143.24 L168.35 144.66 L168.47 146.09 L168.60 147.51 L168.73 148.93 L168.85 150.35 L168.98 151.77 L169.11 153.18 L169.24 154.59 L169.38 156.00 L169.51 157.40 L169.65 158.80 L169.79 160.20 L169.92 161.58 L170.06 162.97 L170.21 164.34 L170.35 165.72 L170.49 167.08 L170.64 168.44 L170.78 169.79 L170.93 171.14 L171.08 172.48 L171.23 173.81 L171.39 175.13 L171.54 176.45 L171.69 177.75 L171.85 179.05 L172.01 180.34 L172.17 181.62 L172.33 182.90 L172.49 184.16 L172.65 185.41 L172.82 186.66 L172.98 187.89 L173.15 189.12 L173.32 190.33 L173.49 191.54 L173.66 192.73 L173.83 193.92 L174.00 195.09 L174.18 196.25 L174.36 197.40 L174.53 198.55 L174.71 199.68 L174.89 200.79 L175.07 201.90 L175.26 203.00 L175.44 204.08 L175.63 205.15 L175.82 206.22 L176.00 207.27 L176.19 208.30 L176.39 209.33 L176.58 210.34 L176.77 211.35 L176.97 212.34 L177.16 213.32 L177.36 214.28 L177.56 215.24 L177.76 216.18 L177.97 217.11 L178.17 218.03 L178.37 218.93 L178.58 219.83 L178.79 220.71 L179.00 221.58 L179.21 222.44 L179.42 223.29 L179.63 224.12 L179.85 224.94 L180.06 225.75 L180.28 226.55 L180.50 227.34 L180.72 228.11 L180.94 228.88 L181.16 229.63 L181.38 230.37 L181.61 231.10 L181.84 231.81 L182.06 232.52 L182.29 233.21 L182.52 233.90 L182.76 234.57 L182.99 235.23 L183.22 235.88 L183.46 236.51 L183.70 237.14 L183.94 237.76 L184.18 238.36 L184.42 238.96 L184.66 239.54 L184.90 240.12 L185.15 240.68 L185.40 241.23 L185.65 241.78 L185.89 242.31 L186.15 242.83 L186.40 243.35 L186.65 243.85 L186.91 244.34 L187.16 244.83 L187.42 245.30 L187.68 245.77 L187.94 246.23 L188.20 246.67 L188.46 247.11 L188.73 247.54 L188.99 247.96 L189.26 248.37 L189.53 248.78 L189.80 249.17 L190.07 249.56 L190.34 249.94 L190.62 250.31 L190.89 250.67 L191.17 251.02 L191.45 251.37 L191.73 251.71 L192.01 252.04 L192.29 252.36 L192.57 252.68 L192.86 252.99 L193.14 253.29 L193.43 253.59 L193.72 253.88 L194.01 254.16 L194.30 254.44 L194.59 254.71 L194.89 254.97 L195.18 255.23 L195.48 255.48 L195.78 255.72 L196.08 255.96 L196.38 256.19 L196.68 256.42 L196.99 256.64 L197.29 256.86 L197.60 257.07 L197.90 257.28 L198.21 257.48 L198.52 257.67 L198.84 257.86 L199.15 258.05 L199.46 258.23 L199.78 258.40 L200.10 258.57 L200.41 258.74 L200.73 258.90 L201.06 259.06 L201.38 259.21 L201.70 259.36 L202.03 259.51 L202.35 259.65 L202.68 259.79 L203.01 259.92 L203.34 260.05 L203.67 260.18 L204.01 260.30 L204.34 260.42 L204.68 260.54 L205.02 260.65 L205.35 260.76 L205.69 260.87 L206.04 260.97 L206.38 261.07 L206.72 261.17 L207.07 261.27 L207.42 261.36 L207.76 261.45 L208.11 261.54 L208.46 261.62 L208.82 261.70 L209.17 261.78 L209.53 261.86 L209.88 261.93 L210.24 262.00 L210.60 262.07 L210.96 262.14 L211.32 262.21 L211.68 262.27 L212.05 262.33 L212.41 262.39 L212.78 262.45 L213.15 262.51 L213.52 262.56 L213.89 262.62 L214.26 262.67 L214.64 262.72 L215.01 262.76 L215.39 262.81 L215.77 262.85 L216.15 262.90 L216.53 262.94 L216.91 262.98 L217.29 263.02 L217.68 263.06 L218.06 263.09 L218.45 263.13 L218.84 263.16 L219.23 263.20 L219.62 263.23 L220.02 263.26 L220.41 263.29 L220.81 263.32 L221.20 263.34 L221.60 263.37 L222.00 263.40 L222.40 263.42 L222.80 263.45 L223.21 263.47 L223.61 263.49 L224.02 263.51 L224.43 263.53 L224.84 263.55 L225.25 263.57 L225.66 263.59 L226.07 263.61 L226.49 263.63 L226.90 263.64 L227.32 263.66 L227.74 263.68 L228.16 263.69 L228.58 263.71 L229.00 263.72 L229.43 263.73 L229.85 263.75 L230.28 263.76 L230.71 263.77 L231.14 263.78 L231.57 263.79 L232.00 263.80 L232.43 263.81 L232.87 263.82 L233.30 263.83 L233.74 263.84 L234.18 263.85 L234.62 263.86 L235.06 263.87 L235.50 263.87 L235.95 263.88 L236.39 263.89 L236.84 263.90 L237.29 263.90 L237.74 263.91 L238.19 263.91 L238.64 263.92 L239.10 263.93 L239.55 263.93 L240.01 263.94 L240.47 263.94 L240.92 263.95 L241.39 263.95 L241.85 263.95 L242.31 263.96 L242.77 263.96 L243.24 263.97 L243.71 263.97 L244.18 263.97 L244.65 263.98 L245.12 263.98 L245.59 263.98 L246.06 263.99 L246.54 263.99 L247.02 263.99 L247.49 264.00 L247.97 264.00 L248.46 264.00 L248.94 264.00 L249.42 264.00 L249.91 264.01 L250.39 264.01 L250.88 264.01 L251.37 264.01 L251.86 264.01 L252.35 264.02 L252.84 264.02 L253.34 264.02 L253.83 264.02 L254.33 264.02 L254.83 264.02 L255.33 264.02 L255.83 264.03 L256.33 264.03 L256.84 264.03 L257.34 264.03 L257.85 264.03 L258.36 264.03 L258.86 264.03 L259.38 264.03 L259.89 264.03 L260.40 264.03 L260.92 264.04 L261.43 264.04 L261.95 264.04 L262.47 264.04 L262.99 264.04 L263.51 264.04 L264.03 264.04 L264.56 264.04 L265.08 264.04 L265.61 264.04 L266.14 264.04 L266.67 264.04 L267.20 264.04 L267.73 264.04 L268.26 264.04 L268.80 264.04 L269.33 264.04 L269.87 264.04 L270.41 264.04 L270.95 264.04"/><path d="M162.75 58.43 L162.75 58.44 L162.75 58.48 L162.76 58.54 L162.76 58.63 L162.77 58.74 L162.77 58.87 L162.78 59.03 L162.79 59.22 L162.80 59.42 L162.82 59.66 L162.83 59.91 L162.85 60.19 L162.86 60.50 L162.88 60.83 L162.90 61.18 L162.92 61.55 L162.95 61.95 L162.97 62.38 L162.99 62.82 L163.02 63.29 L163.05 63.78 L163.08 64.30 L163.11 64.83 L163.14 65.39 L163.17 65.97 L163.21 66.58 L163.24 67.20 L163.28 67.85 L163.32 68.52 L163.36 69.21 L163.40 69.92 L163.44 70.65 L163.49 71.40 L163.53 72.17 L163.58 72.96 L163.63 73.77 L163.68 74.59 L163.73 75.44 L163.78 76.31 L163.83 77.19 L163.89 78.10 L163.94 79.02 L164.00 79.96 L164.06 80.91 L164.12 81.88 L164.18 82.87 L164.24 83.88 L164.31 84.90 L164.37 85.94 L164.44 86.99 L164.51 88.05 L164.58 89.13 L164.65 90.23 L164.72 91.34 L164.80 92.46 L164.87 93.60 L164.95 94.74 L165.02 95.90 L165.10 97.08 L165.18 98.26 L165.27 99.46 L165.35 100.66 L165.43 101.88 L165.52 103.11 L165.61 104.34 L165.70 105.59 L165.79 106.85 L165.88 108.11 L165.97 109.38 L166.06 110.66 L166.16 111.95 L166.26 113.25 L166.35 114.55 L166.45 115.86 L166.55 117.17 L166.66 118.49 L166.76 119.82 L166.86 121.15 L166.97 122.48 L167.08 123.82 L167.19 125.17 L167.30 126.52 L167.41 127.87 L167.52 129.22 L167.64 130.58 L167.75 131.93 L167.87 133.29 L167.99 134.65 L168.11 136.02 L168.23 137.38 L168.35 138.74 L168.47 140.11 L168.60 141.47 L168.73 142.84 L168.85 144.20 L168.98 145.56 L169.11 146.92 L169.24 148.28 L169.38 149.63 L169.51 150.99 L169.65 152.34 L169.79 153.69 L169.92 155.03 L170.06 156.37 L170.21 157.71 L170.35 159.04 L170.49 160.37 L170.64 161.70 L170.78 163.02 L170.93 164.33 L171.08 165.64 L171.23 166.95 L171.39 168.24 L171.54 169.54 L171.69 170.82 L171.85 172.10 L172.01 173.37 L172.17 174.64 L172.33 175.90 L172.49 177.15 L172.65 178.39 L172.82 179.63 L172.98 180.86 L173.15 182.08 L173.32 183.29 L173.49 184.49 L173.66 185.69 L173.83 186.87 L174.00 188.05 L174.18 189.22 L174.36 190.38 L174.53 191.53 L174.71 192.67 L174.89 193.80 L175.07 194.92 L175.26 196.03 L175.44 197.13 L175.63 198.22 L175.82 199.30 L176.00 200.38 L176.19 201.44 L176.39 202.49 L176.58 203.53 L176.77 204.56 L176.97 205.58 L177.16 206.59 L177.36 207.58 L177.56 208.57 L177.76 209.55 L177.97 210.51 L178.17 211.47 L178.37 212.41 L178.58 213.35 L178.79 214.27 L179.00 215.18 L179.21 216.08 L179.42 216.97 L179.63 217.85 L179.85 218.72 L180.06 219.57 L180.28 220.42 L180.50 221.26 L180.72 222.08 L180.94 222.89 L181.16 223.69 L181.38 224.49 L181.61 225.27 L181.84 226.03 L182.06 226.79 L182.29 227.54 L182.52 228.28 L182.76 229.00 L182.99 229.72 L183.22 230.43 L183.46 231.12 L183.70 231.80 L183.94 232.48 L184.18 233.14 L184.42 233.79 L184.66 234.44 L184.90 235.07 L185.15 235.69 L185.40 236.30 L185.65 236.91 L185.89 237.50 L186.15 238.08 L186.40 238.65 L186.65 239.22 L186.91 239.77 L187.16 240.32 L187.42 240.85 L187.68 241.38 L187.94 241.89 L188.20 242.40 L188.46 242.90 L188.73 243.39 L188.99 243.87 L189.26 244.34 L189.53 244.80 L189.80 245.25 L190.07 245.70 L190.34 246.14 L190.62 246.56 L190.89 246.98 L191.17 247.40 L191.45 247.80 L191.73 248.20 L192.01 248.59 L192.29 248.97 L192.57 249.34 L192.86 249.71 L193.14 250.06 L193.43 250.42 L193.72 250.76 L194.01 251.10 L194.30 251.43 L194.59 251.75 L194.89 252.06 L195.18 252.37 L195.48 252.68 L195.78 252.97 L196.08 253.26 L196.38 253.55 L196.68 253.82 L196.99 254.09 L197.29 254.36 L197.60 254.62 L197.90 254.87 L198.21 255.12 L198.52 255.36 L198.84 255.60 L199.15 255.83 L199.46 256.05 L199.78 256.27 L200.10 256.49 L200.41 256.70 L200.73 256.90 L201.06 257.10 L201.38 257.30 L201.70 257.49 L202.03 257.68 L202.35 257.86 L202.68 258.03 L203.01 258.21 L203.34 258.38 L203.67 258.54 L204.01 258.70 L204.34 258.86 L204.68 259.01 L205.02 259.16 L205.35 259.30 L205.69 259.44 L206.04 259.58 L206.38 259.71 L206.72 259.84 L207.07 259.97 L207.42 260.09 L207.76 260.21 L208.11 260.33 L208.46 260.44 L208.82 260.55 L209.17 260.66 L209.53 260.77 L209.88 260.87 L210.24 260.97 L210.60 261.06 L210.96 261.16 L211.32 261.25 L211.68 261.34 L212.05 261.42 L212.41 261.51 L212.78 261.59 L213.15 261.67 L213.52 261.74 L213.89 261.82 L214.26 261.89 L214.64 261.96 L215.01 262.03 L215.39 262.09 L215.77 262.16 L216.15 262.22 L216.53 262.28 L216.91 262.34 L217.29 262.40 L217.68 262.45 L218.06 262.51 L218.45 262.56 L218.84 262.61 L219.23 262.66 L219.62 262.71 L220.02 262.75 L220.41 262.80 L220.81 262.84 L221.20 262.88 L221.60 262.92 L222.00 262.96 L222.40 263.00 L222.80 263.04 L223.21 263.07 L223.61 263.11 L224.02 263.14 L224.43 263.17 L224.84 263.20 L225.25 263.23 L225.66 263.26 L226.07 263.29 L226.49 263.32 L226.90 263.34 L227.32 263.37 L227.74 263.39 L228.16 263.42 L228.58 263.44 L229.00 263.46 L229.43 263.48 L229.85 263.51 L230.28 263.53 L230.71 263.55 L231.14 263.56 L231.57 263.58 L232.00 263.60 L232.43 263.62 L232.87 263.63 L233.30 263.65 L233.74 263.66 L234.18 263.68 L234.62 263.69 L235.06 263.71 L235.50 263.72 L235.95 263.73 L236.39 263.74 L236.84 263.76 L237.29 263.77 L237.74 263.78 L238.19 263.79 L238.64 263.80 L239.10 263.81 L239.55 263.82 L240.01 263.83 L240.47 263.84 L240.92 263.85 L241.39 263.85 L241.85 263.86 L242.31 263.87 L242.77 263.88 L243.24 263.88 L243.71 263.89 L244.18 263.90 L244.65 263.90 L245.12 263.91 L245.59 263.91 L246.06 263.92 L246.54 263.93 L247.02 263.93 L247.49 263.94 L247.97 263.94 L248.46 263.95 L248.94 263.95 L249.42 263.95 L249.91 263.96 L250.39 263.96 L250.88 263.97 L251.37 263.97 L251.86 263.97 L252.35 263.98 L252.84 263.98 L253.34 263.98 L253.83 263.98 L254.33 263.99 L254.83 263.99 L255.33 263.99 L255.83 264.00 L256.33 264.00 L256.84 264.00 L257.34 264.00 L257.85 264.00 L258.36 264.01 L258.86 264.01 L259.38 264.01 L259.89 264.01 L260.40 264.01 L260.92 264.02 L261.43 264.02 L261.95 264.02 L262.47 264.02 L262.99 264.02 L263.51 264.02 L264.03 264.02 L264.56 264.02 L265.08 264.03 L265.61 264.03 L266.14 264.03 L266.67 264.03 L267.20 264.03 L267.73 264.03 L268.26 264.03 L268.80 264.03 L269.33 264.03 L269.87 264.03 L270.41 264.03 L270.95 264.04"/></g></g><path d="M27.50 264.05 L54.55 264.05 M54.55 58.43 L162.75 58.43 L162.75 264.05 L270.95 264.05 M270.95 58.43 L330.50 58.43" stroke="#000" stroke-width="1.05" fill="none"/><path d="M163.15 264.05 L270.95 264.05" stroke="#000030" stroke-width="1.0" fill="none"/><g font-family="'Liberation Sans', sans-serif" font-weight="bold" text-rendering="geometricPrecision" filter="url(#soft)"><text x="21.60" y="267.00" font-size="8.5" text-anchor="end" fill="#000" transform="rotate(0.04 21.60 267.00)">0</text><text x="21.60" y="225.88" font-size="8.5" text-anchor="end" fill="#000" transform="rotate(0.04 21.60 225.88)">0.2</text><text x="21.60" y="184.75" font-size="8.5" text-anchor="end" fill="#000" transform="rotate(0.04 21.60 184.75)">0.4</text><text x="21.60" y="143.63" font-size="8.5" text-anchor="end" fill="#000" transform="rotate(0.04 21.60 143.63)">0.6</text><text x="21.60" y="102.50" font-size="8.5" text-anchor="end" fill="#000" transform="rotate(0.04 21.60 102.50)">0.8</text><text x="21.60" y="61.38" font-size="8.5" text-anchor="end" fill="#000" transform="rotate(0.04 21.60 61.38)">1</text><text x="21.60" y="20.26" font-size="8.5" text-anchor="end" fill="#000" transform="rotate(0.04 21.60 20.26)">1.2</text><text x="54.55" y="277.10" font-size="8.5" text-anchor="middle" fill="#000" transform="rotate(0.04 54.55 277.10)">0</text><text x="108.65" y="277.10" font-size="8.5" text-anchor="middle" fill="#000" transform="rotate(0.04 108.65 277.10)">1e-05</text><text x="162.75" y="277.10" font-size="8.5" text-anchor="middle" fill="#000" transform="rotate(0.04 162.75 277.10)">2e-05</text><text x="216.85" y="277.10" font-size="8.5" text-anchor="middle" fill="#000" transform="rotate(0.04 216.85 277.10)">3e-05</text><text x="270.95" y="277.10" font-size="8.5" text-anchor="middle" fill="#000" transform="rotate(0.04 270.95 277.10)">4e-05</text><text x="325.05" y="277.10" font-size="8.5" text-anchor="middle" fill="#000" transform="rotate(0.04 325.05 277.10)">5e-05</text><text x="179.00" y="292.00" font-size="9.75" text-anchor="middle" fill="#000" transform="rotate(0.04 179.00 292.00)">Time in seconds</text><text x="244.00" y="40.00" font-size="7" text-anchor="start" fill="#ff0000" transform="rotate(0.04 244.00 40.00)">-Charging Current</text><text x="244.00" y="50.60" font-size="7" text-anchor="start" fill="#0000ff" transform="rotate(0.04 244.00 50.60)">-Discharging Current</text><text x="38.70" y="68.50" font-size="6.9" text-anchor="start" fill="#ff0000" transform="rotate(0.04 38.70 68.50)">1mH</text><text x="76.80" y="91.60" font-size="6.9" text-anchor="start" fill="#ff0000" transform="rotate(0.04 76.80 91.60)">5mH</text><text x="179.00" y="215.30" font-size="6.9" text-anchor="start" fill="#0000ff" transform="rotate(0.04 179.00 215.30)">5mH</text><text x="149.80" y="256.60" font-size="6.9" text-anchor="start" fill="#0000ff" transform="rotate(0.04 149.80 256.60)">1mH</text></g></svg></body></html>
